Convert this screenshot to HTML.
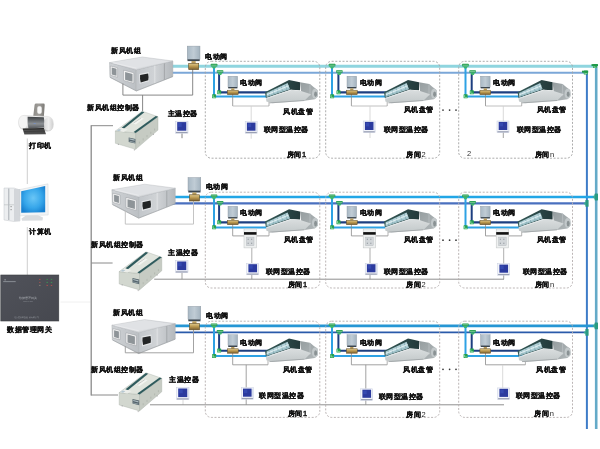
<!DOCTYPE html><html><head><meta charset="utf-8"><title>新风系统</title><style>html,body{margin:0;padding:0;background:#fff;}svg{display:block;filter:blur(0.3px)}</style></head><body>
<svg width="600" height="449" viewBox="0 0 600 449" style="font-family:'Liberation Sans',sans-serif">
<defs>
<linearGradient id="ahuTop" x1="0" y1="0" x2="1" y2="1"><stop offset="0" stop-color="#e8eaec"/><stop offset="1" stop-color="#d2d5d8"/></linearGradient>
<linearGradient id="ahuLeft" x1="0" y1="0" x2="1" y2="0"><stop offset="0" stop-color="#cfd2d5"/><stop offset="1" stop-color="#bcc0c4"/></linearGradient>
<linearGradient id="ahuRight" x1="0" y1="0" x2="1" y2="0"><stop offset="0" stop-color="#c2c6ca"/><stop offset="0.5" stop-color="#d0d3d6"/><stop offset="1" stop-color="#b4b8bc"/></linearGradient>
<linearGradient id="actG" x1="0" y1="0" x2="1" y2="0"><stop offset="0" stop-color="#a8b8c4"/><stop offset="0.5" stop-color="#c0ccd5"/><stop offset="1" stop-color="#a2b2be"/></linearGradient>
<linearGradient id="brassG" x1="0" y1="0" x2="0" y2="1"><stop offset="0" stop-color="#e0c98a"/><stop offset="0.5" stop-color="#b8964e"/><stop offset="1" stop-color="#7a6030"/></linearGradient>
<linearGradient id="fcuTop" x1="0" y1="0" x2="1" y2="0"><stop offset="0" stop-color="#355a58"/><stop offset="1" stop-color="#23393a"/></linearGradient>
<linearGradient id="fcuBot" x1="0" y1="0" x2="0" y2="1"><stop offset="0" stop-color="#dadedf"/><stop offset="1" stop-color="#c2c8c9"/></linearGradient>
<linearGradient id="fcuFan" x1="0" y1="0" x2="1" y2="1"><stop offset="0" stop-color="#959d9f"/><stop offset="1" stop-color="#b3b9bb"/></linearGradient>
<radialGradient id="scr" cx="0.5" cy="0.45" r="0.62"><stop offset="0" stop-color="#6ac6f6"/><stop offset="0.6" stop-color="#36a6ea"/><stop offset="1" stop-color="#1780d0"/></radialGradient>
<linearGradient id="gw" x1="0" y1="0" x2="1" y2="1"><stop offset="0" stop-color="#50525a"/><stop offset="1" stop-color="#46484f"/></linearGradient>
<linearGradient id="prSup" x1="0" y1="0" x2="1" y2="0"><stop offset="0" stop-color="#8d8b87"/><stop offset="0.5" stop-color="#a09e9a"/><stop offset="1" stop-color="#7c7a76"/></linearGradient>
<linearGradient id="prBody" x1="0" y1="0" x2="0" y2="1"><stop offset="0" stop-color="#f2f2f2"/><stop offset="0.6" stop-color="#e2e2e2"/><stop offset="1" stop-color="#c4c4c4"/></linearGradient>
<linearGradient id="prMid" x1="0" y1="0" x2="0" y2="1"><stop offset="0" stop-color="#3e4144"/><stop offset="0.35" stop-color="#6a6e72"/><stop offset="0.6" stop-color="#8c9094"/><stop offset="1" stop-color="#55585c"/></linearGradient>
<linearGradient id="prCap" x1="0" y1="0" x2="1" y2="0"><stop offset="0" stop-color="#d8d8d8"/><stop offset="0.5" stop-color="#eeeeee"/><stop offset="1" stop-color="#cfcfcf"/></linearGradient>
<linearGradient id="prTray" x1="0" y1="0" x2="0" y2="1"><stop offset="0" stop-color="#1e1e1e"/><stop offset="0.5" stop-color="#3a3a3a"/><stop offset="1" stop-color="#555"/></linearGradient>
</defs>
<rect width="600" height="449" fill="#fff"/>
<line x1="27.3" y1="138.5" x2="27.3" y2="184" stroke="#c8c8c8" stroke-width="0.9"/>
<line x1="27.3" y1="227" x2="27.3" y2="275" stroke="#c8c8c8" stroke-width="0.9"/>
<line x1="60.5" y1="302" x2="90.5" y2="302" stroke="#ececec" stroke-width="0.8"/>
<line x1="91.2" y1="125.2" x2="91.2" y2="395.5" stroke="#8a8a8a" stroke-width="1.3"/>
<path d="M33.2,116.8 L34.6,104.8 Q34.9,103.6 36.1,103.6 L43.5,103.6 Q44.8,103.6 44.7,104.9 L43.8,117.5 Z" fill="url(#prSup)"/>
<rect x="37.3" y="106.3" width="4.4" height="7.4" rx="1.6" fill="#f8f8f8"/>
<path d="M24,115.4 L47.5,116.4 Q53.4,117 53.4,124.2 Q53.4,131 47.5,131.2 L24,129.6 Q18.6,129.2 18.6,122.5 Q18.6,115.6 24,115.4 Z" fill="url(#prBody)" stroke="#c8c8c8" stroke-width="0.4"/>
<ellipse cx="23.2" cy="122.4" rx="4.2" ry="6.4" fill="#f4f4f4"/>
<path d="M27.6,116.8 L43.8,117.2 Q45,122 44.4,127.6 L28.4,128.4 Q27.2,122.5 27.6,116.8 Z" fill="url(#prMid)"/>
<ellipse cx="48.6" cy="124" rx="4.6" ry="6.8" fill="url(#prCap)"/>
<polygon points="22.6,128.6 43.8,128.0 46.0,134.2 24.4,134.4" fill="url(#prTray)" stroke="none" stroke-width="0.5" />
<line x1="23.4" y1="130.4" x2="44.4" y2="129.9" stroke="#777" stroke-width="0.5"/>
<line x1="24.0" y1="132.4" x2="45.2" y2="132.0" stroke="#555" stroke-width="0.5"/>
<rect x="33.6" y="123.0" width="2.2" height="0.9" fill="#7890c0" />
<text x="29.2" y="147.7" font-size="7.3" letter-spacing="0.5" font-weight="bold" fill="#111" stroke="#111" stroke-width="0.26" >打印机</text>
<polygon points="4.0,188.0 14.0,188.0 20.0,190.0 20.0,221.0 14.0,221.5 4.0,220.0" fill="#eceef0" stroke="#b8bcc0" stroke-width="0.4" />
<rect x="14.0" y="189.0" width="6.0" height="32.0" fill="#d3d6da" />
<line x1="8.8" y1="188.5" x2="8.8" y2="220" stroke="#a9adb2" stroke-width="1.0"/>
<line x1="4" y1="204.8" x2="14" y2="204.8" stroke="#b4b8bc" stroke-width="0.6"/>
<rect x="10.5" y="206.0" width="1.2" height="1.2" fill="#999" />
<rect x="10.5" y="209.0" width="1.2" height="1.2" fill="#999" />
<polygon points="20.0,189.5 48.0,183.8 48.2,215.0 20.0,215.8" fill="#f2f4f6" stroke="#c8ccd0" stroke-width="0.4" />
<polygon points="21.2,191.2 45.2,186.0 45.2,212.2 21.2,212.8" fill="url(#scr)" stroke="none" stroke-width="0.5" />
<polygon points="26.0,215.5 38.0,215.3 43.0,217.5 42.5,220.5 22.0,220.8 21.5,218.5" fill="#d9dcdf" stroke="none" stroke-width="0.5" />
<text x="29.2" y="234.1" font-size="7.3" letter-spacing="0.5" font-weight="bold" fill="#111" stroke="#111" stroke-width="0.26" >计算机</text>
<rect x="0.8" y="275" width="58" height="46" fill="url(#gw)" stroke="#3a3c40" stroke-width="0.6"/>
<rect x="4.5" y="279.2" width="1.2" height="1.2" fill="#9ea2a8" />
<rect x="3.2" y="281.2" width="12.5" height="0.9" fill="#8e939a" stroke-dasharray="1,0.4"/>
<rect x="39.1" y="278.9" width="1.4" height="1.0" fill="#b04a4a" />
<rect x="46.5" y="278.9" width="1.4" height="1.0" fill="#3a8a50" />
<rect x="50.8" y="278.9" width="1.4" height="1.0" fill="#3a8a50" />
<rect x="39.1" y="281.9" width="1.4" height="1.0" fill="#a05050" />
<rect x="46.5" y="281.9" width="1.4" height="1.0" fill="#3a9455" />
<rect x="50.8" y="281.9" width="1.4" height="1.0" fill="#3a9455" />
<rect x="39.1" y="284.9" width="1.4" height="1.0" fill="#8a8078" />
<rect x="46.5" y="284.9" width="1.4" height="1.0" fill="#b04e4e" />
<rect x="50.8" y="284.9" width="1.4" height="1.0" fill="#b04e4e" />
<text x="19" y="298.6" font-size="2.6" fill="#a4a8ae">数据管理网关</text>
<text x="23.2" y="302" font-size="2" fill="#8e9298">RTWF-200</text>
<text x="13.5" y="317.6" font-size="2.35" fill="#9ea2a8" letter-spacing="0.15">北京智慧科技股份有限公司</text>
<text x="7.0" y="331.5" font-size="7.3" letter-spacing="0.5" font-weight="bold" fill="#111" stroke="#111" stroke-width="0.26" >数据管理网关</text>
<line x1="586.9" y1="72.7" x2="586.9" y2="429" stroke="#3e7cc8" stroke-width="2"/>
<line x1="596.2" y1="66.3" x2="596.2" y2="429" stroke="#64aac8" stroke-width="2.6"/>
<text x="111.0" y="52.7" font-size="7.3" letter-spacing="0.5" font-weight="bold" fill="#111" stroke="#111" stroke-width="0.26" >新风机组</text>
<line x1="172" y1="66.3" x2="596.2" y2="66.3" stroke="#8fd5df" stroke-width="3"/>
<line x1="172" y1="72.7" x2="586.9" y2="72.7" stroke="#7ba7d8" stroke-width="2"/>
<rect x="593.1" y="64.1" width="4" height="4" rx="0.5" fill="#22a04e"/>
<path d="M594.1,64.9 L594.1,67.2 L596.6,67.2" fill="none" stroke="#bff0cf" stroke-width="0.6"/>
<rect x="583.8" y="70.5" width="4" height="4" rx="0.5" fill="#22a04e"/>
<path d="M584.8,71.3 L584.8,73.6 L587.3,73.6" fill="none" stroke="#bff0cf" stroke-width="0.6"/>
<rect x="591.5" y="64.1" width="6.5" height="2" fill="#1f9a4a"/>
<rect x="582" y="70.7" width="6.2" height="2" fill="#1f9a4a"/>
<polygon points="109.5,62.6 136.3,69.8 136.3,90.8 109.9,77.2" fill="url(#ahuLeft)" stroke="#a4a8ac" stroke-width="0.4" />
<polygon points="136.3,69.8 172.9,61.0 172.9,76.4 136.3,90.8" fill="url(#ahuRight)" stroke="#a4a8ac" stroke-width="0.4" />
<polygon points="109.5,62.6 142.2,57.0 172.9,61.0 136.3,69.8" fill="url(#ahuTop)" stroke="#b0b4b8" stroke-width="0.4" />
<polygon points="112.7,62.7 142.1,58.2 169.5,61.3 136.3,68.2" fill="#e0e2e5" stroke="none" stroke-width="0.5" />
<line x1="112.7" y1="62.7" x2="136.3" y2="68.2" stroke="#f2f3f4" stroke-width="0.5"/>
<polygon points="110.4,66.0 117.6,67.8 117.6,77.2 110.4,75.2" fill="#f6f6f6" stroke="#8a8e92" stroke-width="0.4" />
<polygon points="111.7,67.6 116.5,68.8 116.5,75.8 111.7,74.4" fill="#8e9498" stroke="none" stroke-width="0.5" />
<polygon points="123.6,70.2 133.8,72.8 133.8,83.2 123.6,80.4" fill="#f6f6f6" stroke="#8a8e92" stroke-width="0.4" />
<polygon points="125.1,72.0 132.5,73.9 132.5,81.8 125.1,79.8" fill="#8e9498" stroke="none" stroke-width="0.5" />
<polygon points="139.1,74.0 148.9,72.0 149.1,81.2 139.7,83.8" fill="#e4e6e8" stroke="none" stroke-width="0.5" />
<path d="M140.1,75.0 L148.1,73.4 Q148.9,76.6 148.3,80.2 L140.7,82.4 Q139.7,78.6 140.1,75.0 Z" fill="#232526"/>
<line x1="154.8" y1="65.6" x2="154.8" y2="83.2" stroke="#e2e4e6" stroke-width="0.9"/>
<line x1="164.4" y1="63.5" x2="164.4" y2="79.6" stroke="#8e9296" stroke-width="0.6"/>
<line x1="110.1" y1="77.4" x2="136.3" y2="91.0" stroke="#8d9195" stroke-width="0.5"/>
<line x1="136.3" y1="91.0" x2="172.9" y2="76.6" stroke="#8d9195" stroke-width="0.5"/>
<line x1="122.9" y1="83.6" x2="122.9" y2="95.1" stroke="#7a7a7a" stroke-width="0.9"/>
<line x1="122.9" y1="95.1" x2="192.7" y2="95.1" stroke="#7a7a7a" stroke-width="0.9"/>
<line x1="192.7" y1="69.1" x2="192.7" y2="95.1" stroke="#7a7a7a" stroke-width="0.9"/>
<rect x="187.2" y="46.1" width="12.8" height="13.4" fill="url(#actG)" stroke="#8a959e" stroke-width="0.4"/>
<rect x="187.5" y="59.3" width="12.2" height="1.8" fill="#3b4650" />
<rect x="191.5" y="61.1" width="4.2" height="2.3" fill="#b89a58" />
<rect x="188.7" y="63.4" width="10.0" height="6.2" fill="url(#brassG)" stroke="#5e4a22" stroke-width="0.6"/>
<text x="205.0" y="58.7" font-size="7.3" letter-spacing="0.5" font-weight="bold" fill="#111" stroke="#111" stroke-width="0.26" >电动阀</text>
<line x1="142.6" y1="95.1" x2="142.6" y2="111" stroke="#7a7a7a" stroke-width="0.9"/>
<text x="87.4" y="110.1" font-size="7.3" letter-spacing="0.5" font-weight="bold" fill="#111" stroke="#111" stroke-width="0.26" >新风机组控制器</text>
<line x1="91.2" y1="125.7" x2="113" y2="125.7" stroke="#8a8a8a" stroke-width="1.0"/>
<polygon points="115.4,131.0 135.7,132.9 135.7,149.3 115.4,143.3" fill="#d2d7cf" stroke="#aab0a8" stroke-width="0.4" />
<polygon points="135.7,132.9 158.0,116.7 158.0,130.1 135.7,149.3" fill="#c6cbc3" stroke="#aab0a8" stroke-width="0.4" />
<polygon points="115.4,131.0 142.2,111.2 158.0,116.7 135.7,132.9" fill="#e0e4dd" stroke="#aab0a8" stroke-width="0.4" />
<polygon points="121.4,128.0 142.0,111.4 144.4,112.2 123.8,128.8" fill="#2f5b5d" stroke="none" stroke-width="0.5" />
<polygon points="135.7,132.9 158.0,116.7 155.8,116.0 133.6,132.0" fill="#2f5b5d" stroke="none" stroke-width="0.5" />
<polygon points="116.2,130.6 121.0,127.6 127.8,129.4 123.6,132.0" fill="#eceeea" stroke="none" stroke-width="0.5" />
<polygon points="116.6,130.5 119.0,129.0 121.6,129.7 119.2,131.2" fill="#b6c8d2" stroke="none" stroke-width="0.5" />
<polygon points="132.0,123.2 140.0,117.4 143.8,118.6 135.8,124.4" fill="#f2f4f0" stroke="none" stroke-width="0.5" />
<line x1="133.6" y1="123.0" x2="141.0" y2="118.0" stroke="#8a8a8a" stroke-width="0.4"/>
<polygon points="128.7,137.4 135.4,139.0 135.4,143.6 128.7,142.0" fill="#55656c" stroke="none" stroke-width="0.5" />
<polygon points="129.4,138.3 134.7,139.6 134.7,140.8 129.4,139.5" fill="#b0bec4" stroke="none" stroke-width="0.5" />
<polygon points="129.4,140.8 134.7,142.1 134.7,142.9 129.4,141.6" fill="#9aa8ae" stroke="none" stroke-width="0.5" />
<line x1="139.4" y1="141.61434977578475" x2="139.4" y2="143.61434977578475" stroke="#a0a69e" stroke-width="0.5"/>
<line x1="143.20000000000002" y1="138.342600896861" x2="143.20000000000002" y2="140.342600896861" stroke="#a0a69e" stroke-width="0.5"/>
<line x1="147.0" y1="135.07085201793723" x2="147.0" y2="137.07085201793723" stroke="#a0a69e" stroke-width="0.5"/>
<line x1="150.8" y1="131.79910313901345" x2="150.8" y2="133.79910313901345" stroke="#a0a69e" stroke-width="0.5"/>
<line x1="154.60000000000002" y1="128.52735426008968" x2="154.60000000000002" y2="130.52735426008968" stroke="#a0a69e" stroke-width="0.5"/>
<line x1="118.4" y1="143.8" x2="118.4" y2="145" stroke="#888" stroke-width="0.6"/>
<line x1="134.4" y1="149.2" x2="134.4" y2="150.5" stroke="#888" stroke-width="0.6"/>
<line x1="153.4" y1="133.8" x2="153.4" y2="135" stroke="#888" stroke-width="0.6"/>
<text x="167.6" y="115.7" font-size="7.3" letter-spacing="0.5" font-weight="bold" fill="#111" stroke="#111" stroke-width="0.26" >主温控器</text>
<line x1="182.0" y1="133.2" x2="182.0" y2="138.2" stroke="#777" stroke-width="0.9"/>
<rect x="175.5" y="121.2" width="12.5" height="12.0" fill="#f2f4fa" stroke="#c8cee0" stroke-width="0.5"/>
<rect x="177.2" y="122.1" width="9.1" height="8.6" fill="#2b3a9e" />
<rect x="178.1" y="123.0" width="3.6" height="3.9" fill="#3e55c0" opacity="0.55"/>
<rect x="175.9" y="131.9" width="11.7" height="1.2" fill="#9aa0b4" />
<rect x="186.8" y="122.2" width="0.8" height="9.0" fill="#d0d8ea" />
<rect x="205.3" y="61.3" width="114.5" height="96.89999999999999" rx="6" fill="none" stroke="#a4a4a4" stroke-width="0.9" stroke-dasharray="2,1.6"/>
<line x1="214" y1="67.3" x2="214" y2="96.5" stroke="#2ea2e4" stroke-width="2"/>
<line x1="219.1" y1="73.7" x2="219.1" y2="92.4" stroke="#1d3f80" stroke-width="2"/>
<line x1="214" y1="96.5" x2="270.4" y2="96.5" stroke="#2ea2e4" stroke-width="2"/>
<line x1="219.1" y1="92.4" x2="270.4" y2="92.4" stroke="#1d3f80" stroke-width="2.1"/>
<rect x="210.8" y="63.8" width="6.5" height="2.6" rx="0.5" fill="#1f9a4a"/>
<line x1="211.2" y1="65.2" x2="216.8" y2="65.2" stroke="#c8f2d6" stroke-width="0.55"/>
<polygon points="211.8,66.4 216.2,66.4 215.1,68.5 212.9,68.5" fill="#3cb86a"/>
<rect x="216.8" y="70.2" width="6.5" height="2.6" rx="0.5" fill="#1f9a4a"/>
<line x1="217.3" y1="71.6" x2="222.8" y2="71.6" stroke="#c8f2d6" stroke-width="0.55"/>
<polygon points="217.9,72.8 222.3,72.8 221.2,74.9 219.0,74.9" fill="#3cb86a"/>
<rect x="212.1" y="94.3" width="4" height="4" rx="0.5" fill="#22a04e"/>
<path d="M213.1,95.1 L213.1,97.4 L215.6,97.4" fill="none" stroke="#bff0cf" stroke-width="0.6"/>
<rect x="217.2" y="90.2" width="4" height="4" rx="0.5" fill="#22a04e"/>
<path d="M218.2,91.0 L218.2,93.3 L220.7,93.3" fill="none" stroke="#bff0cf" stroke-width="0.6"/>
<line x1="232.7" y1="94.2" x2="232.7" y2="106" stroke="#8a8a8a" stroke-width="0.8"/>
<line x1="232.7" y1="106" x2="269" y2="106" stroke="#b0b0b0" stroke-width="0.8"/>
<line x1="251.2" y1="106" x2="251.2" y2="121.7" stroke="#cfcfcf" stroke-width="0.8"/>
<line x1="269" y1="100.7" x2="269" y2="106" stroke="#a0a0a0" stroke-width="0.8"/>
<line x1="251.2" y1="132.7" x2="251.2" y2="138.7" stroke="#cfcfcf" stroke-width="0.8"/>
<rect x="228.0" y="76.2" width="9.6" height="11.0" fill="url(#actG)" stroke="#8a959e" stroke-width="0.4"/>
<rect x="228.2" y="87.0" width="9.2" height="1.4" fill="#3b4650" />
<rect x="231.2" y="88.4" width="3.2" height="1.8" fill="#b89a58" />
<rect x="227.4" y="90.2" width="10.8" height="4.4" fill="url(#brassG)" stroke="#5e4a22" stroke-width="0.5"/>
<text x="240.4" y="85.3" font-size="7.3" letter-spacing="0.5" font-weight="bold" fill="#111" stroke="#111" stroke-width="0.26" >电动阀</text>
<polygon points="300.0,82.3 310.0,84.1 313.9,87.2 317.6,89.9 318.0,96.3 314.9,99.3 304.4,100.7 301.0,90.9" fill="url(#fcuFan)" stroke="none" stroke-width="0.5" />
<ellipse cx="315.0" cy="93.7" rx="3.0" ry="5.0" fill="#c2c8ca"/>
<ellipse cx="315.6" cy="94.3" rx="1.5" ry="2.8" fill="#8a9294"/>
<line x1="310.0" y1="84.3" x2="310.0" y2="96.2" stroke="#b9bfc1" stroke-width="0.8"/>
<polygon points="265.0,92.2 289.0,79.9 300.0,82.3 300.0,90.3 291.0,89.7 265.9,97.9" fill="url(#fcuTop)" stroke="none" stroke-width="0.5" />
<polygon points="266.6,92.9 287.6,83.1 290.0,89.3 266.6,97.1" fill="#b4d2d9" stroke="none" stroke-width="0.5" />
<line x1="269.12" y1="91.724" x2="269.40799999999996" y2="96.164" stroke="#5f8c94" stroke-width="0.45"/>
<line x1="273.10999999999996" y1="89.862" x2="273.854" y2="94.682" stroke="#5f8c94" stroke-width="0.45"/>
<line x1="277.09999999999997" y1="88.0" x2="278.29999999999995" y2="93.2" stroke="#5f8c94" stroke-width="0.45"/>
<line x1="281.09" y1="86.138" x2="282.746" y2="91.718" stroke="#5f8c94" stroke-width="0.45"/>
<line x1="285.08" y1="84.27600000000001" x2="287.192" y2="90.236" stroke="#5f8c94" stroke-width="0.45"/>
<line x1="266.79999999999995" y1="94.7" x2="288.59999999999997" y2="85.8" stroke="#eef6f8" stroke-width="0.8"/>
<line x1="266.79999999999995" y1="96.30000000000001" x2="289.4" y2="88.3" stroke="#7fa6ae" stroke-width="0.5"/>
<polygon points="265.9,98.1 291.0,89.7 301.0,90.9 311.0,94.3 304.4,100.7 272.4,103.3 266.4,101.5" fill="url(#fcuBot)" stroke="none" stroke-width="0.5" />
<line x1="269.4" y1="102.9" x2="304.4" y2="100.5" stroke="#9aa0a2" stroke-width="0.8"/>
<line x1="266.4" y1="98.5" x2="291.0" y2="90.10000000000001" stroke="#f4f7f8" stroke-width="0.5"/>
<text x="283.0" y="113.9" font-size="7.3" letter-spacing="0.5" font-weight="bold" fill="#111" stroke="#111" stroke-width="0.26" >风机盘管</text>
<rect x="245.2" y="121.7" width="12.0" height="11.5" fill="#f2f4fa" stroke="#c8cee0" stroke-width="0.5"/>
<rect x="246.9" y="122.6" width="8.6" height="8.1" fill="#2b3a9e" />
<rect x="247.8" y="123.5" width="3.4" height="3.6" fill="#3e55c0" opacity="0.55"/>
<rect x="245.6" y="131.9" width="11.2" height="1.2" fill="#9aa0b4" />
<rect x="256.0" y="122.7" width="0.8" height="8.5" fill="#d0d8ea" />
<text x="263.5" y="131.9" font-size="7.3" letter-spacing="0.5" font-weight="bold" fill="#111" stroke="#111" stroke-width="0.26" >联网型温控器</text>
<text x="286.7" y="156.7" font-size="7.3" letter-spacing="0.5" font-weight="bold" fill="#111" stroke="#111" stroke-width="0.26" >房间</text>
<text x="302.1" y="156.7" font-size="7.3" letter-spacing="0.5" font-weight="bold" fill="#111" stroke="#111" stroke-width="0.26" >1</text>
<rect x="325.7" y="61.3" width="114.0" height="96.89999999999999" rx="6" fill="none" stroke="#a4a4a4" stroke-width="0.9" stroke-dasharray="2,1.6"/>
<line x1="332" y1="67.3" x2="332" y2="96.5" stroke="#2ea2e4" stroke-width="2"/>
<line x1="338.4" y1="73.7" x2="338.4" y2="92.4" stroke="#1d3f80" stroke-width="2"/>
<line x1="332" y1="96.5" x2="389.4" y2="96.5" stroke="#2ea2e4" stroke-width="2"/>
<line x1="338.4" y1="92.4" x2="389.4" y2="92.4" stroke="#1d3f80" stroke-width="2.1"/>
<rect x="328.8" y="63.8" width="6.5" height="2.6" rx="0.5" fill="#1f9a4a"/>
<line x1="329.2" y1="65.2" x2="334.8" y2="65.2" stroke="#c8f2d6" stroke-width="0.55"/>
<polygon points="329.8,66.4 334.2,66.4 333.1,68.5 330.9,68.5" fill="#3cb86a"/>
<rect x="336.1" y="70.2" width="6.5" height="2.6" rx="0.5" fill="#1f9a4a"/>
<line x1="336.6" y1="71.6" x2="342.1" y2="71.6" stroke="#c8f2d6" stroke-width="0.55"/>
<polygon points="337.2,72.8 341.6,72.8 340.5,74.9 338.3,74.9" fill="#3cb86a"/>
<rect x="330.1" y="94.3" width="4" height="4" rx="0.5" fill="#22a04e"/>
<path d="M331.1,95.1 L331.1,97.4 L333.6,97.4" fill="none" stroke="#bff0cf" stroke-width="0.6"/>
<rect x="336.5" y="90.2" width="4" height="4" rx="0.5" fill="#22a04e"/>
<path d="M337.5,91.0 L337.5,93.3 L340.0,93.3" fill="none" stroke="#bff0cf" stroke-width="0.6"/>
<line x1="351.4" y1="94.2" x2="351.4" y2="106" stroke="#8a8a8a" stroke-width="0.8"/>
<line x1="351.4" y1="106" x2="387.2" y2="106" stroke="#b0b0b0" stroke-width="0.8"/>
<line x1="370" y1="106" x2="370" y2="121" stroke="#cfcfcf" stroke-width="0.8"/>
<line x1="387.2" y1="100.7" x2="387.2" y2="106" stroke="#a0a0a0" stroke-width="0.8"/>
<line x1="370" y1="132" x2="370" y2="138" stroke="#cfcfcf" stroke-width="0.8"/>
<rect x="347.0" y="76.2" width="9.6" height="11.0" fill="url(#actG)" stroke="#8a959e" stroke-width="0.4"/>
<rect x="347.2" y="87.0" width="9.2" height="1.4" fill="#3b4650" />
<rect x="350.2" y="88.4" width="3.2" height="1.8" fill="#b89a58" />
<rect x="346.4" y="90.2" width="10.8" height="4.4" fill="url(#brassG)" stroke="#5e4a22" stroke-width="0.5"/>
<text x="359.6" y="85.3" font-size="7.3" letter-spacing="0.5" font-weight="bold" fill="#111" stroke="#111" stroke-width="0.26" >电动阀</text>
<polygon points="419.0,82.3 429.0,84.1 432.9,87.2 436.6,89.9 437.0,96.3 433.9,99.3 423.4,100.7 420.0,90.9" fill="url(#fcuFan)" stroke="none" stroke-width="0.5" />
<ellipse cx="434.0" cy="93.7" rx="3.0" ry="5.0" fill="#c2c8ca"/>
<ellipse cx="434.6" cy="94.3" rx="1.5" ry="2.8" fill="#8a9294"/>
<line x1="429.0" y1="84.3" x2="429.0" y2="96.2" stroke="#b9bfc1" stroke-width="0.8"/>
<polygon points="384.0,92.2 408.0,79.9 419.0,82.3 419.0,90.3 410.0,89.7 384.9,97.9" fill="url(#fcuTop)" stroke="none" stroke-width="0.5" />
<polygon points="385.6,92.9 406.6,83.1 409.0,89.3 385.6,97.1" fill="#b4d2d9" stroke="none" stroke-width="0.5" />
<line x1="388.12" y1="91.724" x2="388.40799999999996" y2="96.164" stroke="#5f8c94" stroke-width="0.45"/>
<line x1="392.10999999999996" y1="89.862" x2="392.854" y2="94.682" stroke="#5f8c94" stroke-width="0.45"/>
<line x1="396.09999999999997" y1="88.0" x2="397.29999999999995" y2="93.2" stroke="#5f8c94" stroke-width="0.45"/>
<line x1="400.09" y1="86.138" x2="401.746" y2="91.718" stroke="#5f8c94" stroke-width="0.45"/>
<line x1="404.08" y1="84.27600000000001" x2="406.192" y2="90.236" stroke="#5f8c94" stroke-width="0.45"/>
<line x1="385.79999999999995" y1="94.7" x2="407.59999999999997" y2="85.8" stroke="#eef6f8" stroke-width="0.8"/>
<line x1="385.79999999999995" y1="96.30000000000001" x2="408.4" y2="88.3" stroke="#7fa6ae" stroke-width="0.5"/>
<polygon points="384.9,98.1 410.0,89.7 420.0,90.9 430.0,94.3 423.4,100.7 391.4,103.3 385.4,101.5" fill="url(#fcuBot)" stroke="none" stroke-width="0.5" />
<line x1="388.4" y1="102.9" x2="423.4" y2="100.5" stroke="#9aa0a2" stroke-width="0.8"/>
<line x1="385.4" y1="98.5" x2="410.0" y2="90.10000000000001" stroke="#f4f7f8" stroke-width="0.5"/>
<text x="403.7" y="111.7" font-size="7.3" letter-spacing="0.5" font-weight="bold" fill="#111" stroke="#111" stroke-width="0.26" >风机盘管</text>
<rect x="363.2" y="121.0" width="12.0" height="11.5" fill="#f2f4fa" stroke="#c8cee0" stroke-width="0.5"/>
<rect x="364.9" y="121.9" width="8.6" height="8.1" fill="#2b3a9e" />
<rect x="365.8" y="122.8" width="3.4" height="3.6" fill="#3e55c0" opacity="0.55"/>
<rect x="363.6" y="131.2" width="11.2" height="1.2" fill="#9aa0b4" />
<rect x="374.0" y="122.0" width="0.8" height="8.5" fill="#d0d8ea" />
<text x="383.8" y="132.4" font-size="7.3" letter-spacing="0.5" font-weight="bold" fill="#111" stroke="#111" stroke-width="0.26" >联网型温控器</text>
<text x="406.0" y="156.7" font-size="7.3" letter-spacing="0.5" font-weight="bold" fill="#111" stroke="#111" stroke-width="0.26" >房间</text>
<text x="421.4" y="156.8" font-size="7.5" letter-spacing="0.5" font-weight="normal" fill="#222" >2</text>
<rect x="458.7" y="61.3" width="113.80000000000001" height="96.89999999999999" rx="6" fill="none" stroke="#a4a4a4" stroke-width="0.9" stroke-dasharray="2,1.6"/>
<line x1="465.5" y1="67.3" x2="465.5" y2="96.5" stroke="#2ea2e4" stroke-width="2"/>
<line x1="471.7" y1="73.7" x2="471.7" y2="92.4" stroke="#1d3f80" stroke-width="2"/>
<line x1="465.5" y1="96.5" x2="523" y2="96.5" stroke="#2ea2e4" stroke-width="2"/>
<line x1="471.7" y1="92.4" x2="523" y2="92.4" stroke="#1d3f80" stroke-width="2.1"/>
<rect x="462.2" y="63.8" width="6.5" height="2.6" rx="0.5" fill="#1f9a4a"/>
<line x1="462.8" y1="65.2" x2="468.2" y2="65.2" stroke="#c8f2d6" stroke-width="0.55"/>
<polygon points="463.3,66.4 467.7,66.4 466.6,68.5 464.4,68.5" fill="#3cb86a"/>
<rect x="469.4" y="70.2" width="6.5" height="2.6" rx="0.5" fill="#1f9a4a"/>
<line x1="469.9" y1="71.6" x2="475.4" y2="71.6" stroke="#c8f2d6" stroke-width="0.55"/>
<polygon points="470.5,72.8 474.9,72.8 473.8,74.9 471.6,74.9" fill="#3cb86a"/>
<rect x="463.6" y="94.3" width="4" height="4" rx="0.5" fill="#22a04e"/>
<path d="M464.6,95.1 L464.6,97.4 L467.1,97.4" fill="none" stroke="#bff0cf" stroke-width="0.6"/>
<rect x="469.8" y="90.2" width="4" height="4" rx="0.5" fill="#22a04e"/>
<path d="M470.8,91.0 L470.8,93.3 L473.3,93.3" fill="none" stroke="#bff0cf" stroke-width="0.6"/>
<line x1="485.5" y1="94.2" x2="485.5" y2="106" stroke="#8a8a8a" stroke-width="0.8"/>
<line x1="485.5" y1="106" x2="521.7" y2="106" stroke="#b0b0b0" stroke-width="0.8"/>
<line x1="503.3" y1="106" x2="503.3" y2="121" stroke="#cfcfcf" stroke-width="0.8"/>
<line x1="521.7" y1="100.7" x2="521.7" y2="106" stroke="#a0a0a0" stroke-width="0.8"/>
<line x1="503.3" y1="132" x2="503.3" y2="138" stroke="#8a8a8a" stroke-width="0.8"/>
<rect x="480.5" y="76.2" width="9.6" height="11.0" fill="url(#actG)" stroke="#8a959e" stroke-width="0.4"/>
<rect x="480.7" y="87.0" width="9.2" height="1.4" fill="#3b4650" />
<rect x="483.7" y="88.4" width="3.2" height="1.8" fill="#b89a58" />
<rect x="479.9" y="90.2" width="10.8" height="4.4" fill="url(#brassG)" stroke="#5e4a22" stroke-width="0.5"/>
<text x="493.0" y="85.3" font-size="7.3" letter-spacing="0.5" font-weight="bold" fill="#111" stroke="#111" stroke-width="0.26" >电动阀</text>
<polygon points="552.6,82.3 562.6,84.1 566.5,87.2 570.2,89.9 570.6,96.3 567.5,99.3 557.0,100.7 553.6,90.9" fill="url(#fcuFan)" stroke="none" stroke-width="0.5" />
<ellipse cx="567.6" cy="93.7" rx="3.0" ry="5.0" fill="#c2c8ca"/>
<ellipse cx="568.2" cy="94.3" rx="1.5" ry="2.8" fill="#8a9294"/>
<line x1="562.6" y1="84.3" x2="562.6" y2="96.2" stroke="#b9bfc1" stroke-width="0.8"/>
<polygon points="517.6,92.2 541.6,79.9 552.6,82.3 552.6,90.3 543.6,89.7 518.5,97.9" fill="url(#fcuTop)" stroke="none" stroke-width="0.5" />
<polygon points="519.2,92.9 540.2,83.1 542.6,89.3 519.2,97.1" fill="#b4d2d9" stroke="none" stroke-width="0.5" />
<line x1="521.72" y1="91.724" x2="522.008" y2="96.164" stroke="#5f8c94" stroke-width="0.45"/>
<line x1="525.71" y1="89.862" x2="526.454" y2="94.682" stroke="#5f8c94" stroke-width="0.45"/>
<line x1="529.7" y1="88.0" x2="530.9" y2="93.2" stroke="#5f8c94" stroke-width="0.45"/>
<line x1="533.69" y1="86.138" x2="535.346" y2="91.718" stroke="#5f8c94" stroke-width="0.45"/>
<line x1="537.68" y1="84.27600000000001" x2="539.792" y2="90.236" stroke="#5f8c94" stroke-width="0.45"/>
<line x1="519.4" y1="94.7" x2="541.2" y2="85.8" stroke="#eef6f8" stroke-width="0.8"/>
<line x1="519.4" y1="96.30000000000001" x2="542" y2="88.3" stroke="#7fa6ae" stroke-width="0.5"/>
<polygon points="518.5,98.1 543.6,89.7 553.6,90.9 563.6,94.3 557.0,100.7 525.0,103.3 519.0,101.5" fill="url(#fcuBot)" stroke="none" stroke-width="0.5" />
<line x1="522" y1="102.9" x2="557" y2="100.5" stroke="#9aa0a2" stroke-width="0.8"/>
<line x1="519" y1="98.5" x2="543.6" y2="90.10000000000001" stroke="#f4f7f8" stroke-width="0.5"/>
<text x="536.7" y="111.7" font-size="7.3" letter-spacing="0.5" font-weight="bold" fill="#111" stroke="#111" stroke-width="0.26" >风机盘管</text>
<rect x="497.0" y="121.0" width="12.0" height="11.5" fill="#f2f4fa" stroke="#c8cee0" stroke-width="0.5"/>
<rect x="498.7" y="121.9" width="8.6" height="8.1" fill="#2b3a9e" />
<rect x="499.6" y="122.8" width="3.4" height="3.6" fill="#3e55c0" opacity="0.55"/>
<rect x="497.4" y="131.2" width="11.2" height="1.2" fill="#9aa0b4" />
<rect x="507.8" y="122.0" width="0.8" height="8.5" fill="#d0d8ea" />
<text x="516.5" y="132.4" font-size="7.3" letter-spacing="0.5" font-weight="bold" fill="#111" stroke="#111" stroke-width="0.26" >联网型温控器</text>
<text x="534.5" y="156.7" font-size="7.3" letter-spacing="0.5" font-weight="bold" fill="#111" stroke="#111" stroke-width="0.26" >房间</text>
<text x="549.9" y="156.8" font-size="7.5" letter-spacing="0.5" font-weight="normal" fill="#222" >n</text>
<circle cx="443" cy="110.1" r="0.85" fill="#333"/>
<circle cx="449.6" cy="110.1" r="0.85" fill="#333"/>
<circle cx="456" cy="110.1" r="0.85" fill="#333"/>
<text x="113.2" y="180.1" font-size="7.3" letter-spacing="0.5" font-weight="bold" fill="#111" stroke="#111" stroke-width="0.26" >新风机组</text>
<line x1="172" y1="197.0" x2="596.2" y2="197.0" stroke="#22a6e6" stroke-width="2.4"/>
<line x1="172" y1="203.4" x2="586.9" y2="203.4" stroke="#4a70bf" stroke-width="2.3"/>
<rect x="594.6" y="193.6" width="3.4" height="6.8" rx="0.6" fill="#2a9a82"/>
<polygon points="592.6,197.0 594.8,194.8 594.8,199.2" fill="#3aae90"/>
<rect x="585.4" y="200.0" width="3.2" height="6.8" rx="0.6" fill="#2a9a82"/>
<polygon points="583.6,203.4 585.6,201.4 585.6,205.4" fill="#3aae90"/>
<polygon points="111.9,189.8 138.7,197.0 138.7,218.0 112.3,204.4" fill="url(#ahuLeft)" stroke="#a4a8ac" stroke-width="0.4" />
<polygon points="138.7,197.0 175.3,188.2 175.3,203.6 138.7,218.0" fill="url(#ahuRight)" stroke="#a4a8ac" stroke-width="0.4" />
<polygon points="111.9,189.8 144.6,184.2 175.3,188.2 138.7,197.0" fill="url(#ahuTop)" stroke="#b0b4b8" stroke-width="0.4" />
<polygon points="115.1,189.9 144.5,185.4 171.9,188.5 138.7,195.4" fill="#e0e2e5" stroke="none" stroke-width="0.5" />
<line x1="115.10000000000001" y1="189.9" x2="138.70000000000002" y2="195.4" stroke="#f2f3f4" stroke-width="0.5"/>
<polygon points="112.8,193.2 120.0,195.0 120.0,204.4 112.8,202.4" fill="#f6f6f6" stroke="#8a8e92" stroke-width="0.4" />
<polygon points="114.1,194.8 118.9,196.0 118.9,203.0 114.1,201.6" fill="#8e9498" stroke="none" stroke-width="0.5" />
<polygon points="126.0,197.4 136.2,200.0 136.2,210.4 126.0,207.6" fill="#f6f6f6" stroke="#8a8e92" stroke-width="0.4" />
<polygon points="127.5,199.2 134.9,201.1 134.9,209.0 127.5,207.0" fill="#8e9498" stroke="none" stroke-width="0.5" />
<polygon points="141.5,201.2 151.3,199.2 151.5,208.4 142.1,211.0" fill="#e4e6e8" stroke="none" stroke-width="0.5" />
<path d="M142.5,202.2 L150.5,200.6 Q151.3,203.8 150.7,207.4 L143.1,209.6 Q142.1,205.8 142.5,202.2 Z" fill="#232526"/>
<line x1="157.2" y1="192.8" x2="157.2" y2="210.4" stroke="#e2e4e6" stroke-width="0.9"/>
<line x1="166.8" y1="190.70000000000002" x2="166.8" y2="206.8" stroke="#8e9296" stroke-width="0.6"/>
<line x1="112.5" y1="204.60000000000002" x2="138.70000000000002" y2="218.20000000000002" stroke="#8d9195" stroke-width="0.5"/>
<line x1="138.70000000000002" y1="218.20000000000002" x2="175.3" y2="203.8" stroke="#8d9195" stroke-width="0.5"/>
<line x1="125.30000000000001" y1="210.8" x2="125.30000000000001" y2="224.1" stroke="#bdbdbd" stroke-width="0.9"/>
<line x1="125.30000000000001" y1="224.1" x2="193.5" y2="224.1" stroke="#bdbdbd" stroke-width="0.9"/>
<line x1="193.5" y1="200.5" x2="193.5" y2="224.1" stroke="#bdbdbd" stroke-width="0.9"/>
<rect x="188.0" y="177.5" width="12.8" height="13.4" fill="url(#actG)" stroke="#8a959e" stroke-width="0.4"/>
<rect x="188.3" y="190.7" width="12.2" height="1.8" fill="#3b4650" />
<rect x="192.3" y="192.5" width="4.2" height="2.3" fill="#b89a58" />
<rect x="189.5" y="194.8" width="10.0" height="6.2" fill="url(#brassG)" stroke="#5e4a22" stroke-width="0.6"/>
<text x="205.5" y="188.7" font-size="7.3" letter-spacing="0.5" font-weight="bold" fill="#111" stroke="#111" stroke-width="0.26" >电动阀</text>
<text x="91.0" y="246.7" font-size="7.3" letter-spacing="0.5" font-weight="bold" fill="#111" stroke="#111" stroke-width="0.26" >新风机组控制器</text>
<line x1="91.2" y1="263" x2="112.6" y2="263" stroke="#8a8a8a" stroke-width="1.0"/>
<polygon points="119.2,271.6 139.5,273.5 139.5,289.9 119.2,283.9" fill="#d2d7cf" stroke="#aab0a8" stroke-width="0.4" />
<polygon points="139.5,273.5 161.8,257.3 161.8,270.7 139.5,289.9" fill="#c6cbc3" stroke="#aab0a8" stroke-width="0.4" />
<polygon points="119.2,271.6 146.0,251.8 161.8,257.3 139.5,273.5" fill="#e0e4dd" stroke="#aab0a8" stroke-width="0.4" />
<polygon points="125.2,268.6 145.8,252.0 148.2,252.8 127.6,269.4" fill="#2f5b5d" stroke="none" stroke-width="0.5" />
<polygon points="139.5,273.5 161.8,257.3 159.6,256.6 137.4,272.6" fill="#2f5b5d" stroke="none" stroke-width="0.5" />
<polygon points="120.0,271.2 124.8,268.2 131.6,270.0 127.4,272.6" fill="#eceeea" stroke="none" stroke-width="0.5" />
<polygon points="120.4,271.1 122.8,269.6 125.4,270.3 123.0,271.8" fill="#b6c8d2" stroke="none" stroke-width="0.5" />
<polygon points="135.8,263.8 143.8,258.0 147.6,259.2 139.6,265.0" fill="#f2f4f0" stroke="none" stroke-width="0.5" />
<line x1="137.4" y1="263.6" x2="144.8" y2="258.6" stroke="#8a8a8a" stroke-width="0.4"/>
<polygon points="132.5,278.0 139.2,279.6 139.2,284.2 132.5,282.6" fill="#55656c" stroke="none" stroke-width="0.5" />
<polygon points="133.2,278.9 138.5,280.2 138.5,281.4 133.2,280.1" fill="#b0bec4" stroke="none" stroke-width="0.5" />
<polygon points="133.2,281.4 138.5,282.7 138.5,283.5 133.2,282.2" fill="#9aa8ae" stroke="none" stroke-width="0.5" />
<line x1="143.2" y1="282.2143497757848" x2="143.2" y2="284.2143497757848" stroke="#a0a69e" stroke-width="0.5"/>
<line x1="147.0" y1="278.942600896861" x2="147.0" y2="280.942600896861" stroke="#a0a69e" stroke-width="0.5"/>
<line x1="150.8" y1="275.67085201793725" x2="150.8" y2="277.67085201793725" stroke="#a0a69e" stroke-width="0.5"/>
<line x1="154.6" y1="272.3991031390135" x2="154.6" y2="274.3991031390135" stroke="#a0a69e" stroke-width="0.5"/>
<line x1="158.4" y1="269.1273542600897" x2="158.4" y2="271.1273542600897" stroke="#a0a69e" stroke-width="0.5"/>
<line x1="122.2" y1="284.40000000000003" x2="122.2" y2="285.6" stroke="#888" stroke-width="0.6"/>
<line x1="138.2" y1="289.8" x2="138.2" y2="291.1" stroke="#888" stroke-width="0.6"/>
<line x1="157.2" y1="274.40000000000003" x2="157.2" y2="275.6" stroke="#888" stroke-width="0.6"/>
<text x="168.0" y="255.3" font-size="7.3" letter-spacing="0.5" font-weight="bold" fill="#111" stroke="#111" stroke-width="0.26" >主温控器</text>
<line x1="182.0" y1="272.6" x2="182.0" y2="279.2" stroke="#999" stroke-width="0.9"/>
<line x1="154.2" y1="279.2" x2="504" y2="279.2" stroke="#8f8f8f" stroke-width="1.0"/>
<rect x="175.5" y="260.6" width="12.5" height="12.0" fill="#f2f4fa" stroke="#c8cee0" stroke-width="0.5"/>
<rect x="177.2" y="261.5" width="9.1" height="8.6" fill="#2b3a9e" />
<rect x="178.1" y="262.4" width="3.6" height="3.9" fill="#3e55c0" opacity="0.55"/>
<rect x="175.9" y="271.3" width="11.7" height="1.2" fill="#9aa0b4" />
<rect x="186.8" y="261.6" width="0.8" height="9.0" fill="#d0d8ea" />
<rect x="205.3" y="192.2" width="114.5" height="95.80000000000001" rx="6" fill="none" stroke="#b4aeae" stroke-width="0.9" stroke-dasharray="2,1.6"/>
<line x1="214" y1="198.0" x2="214" y2="227.5" stroke="#2ea2e4" stroke-width="2"/>
<line x1="219.1" y1="204.4" x2="219.1" y2="222.4" stroke="#1d3f80" stroke-width="2"/>
<line x1="214" y1="227.5" x2="270.4" y2="227.5" stroke="#2ea2e4" stroke-width="2"/>
<line x1="219.1" y1="222.4" x2="270.4" y2="222.4" stroke="#1d3f80" stroke-width="2.1"/>
<rect x="210.8" y="194.5" width="6.5" height="2.6" rx="0.5" fill="#1f9a4a"/>
<line x1="211.2" y1="195.9" x2="216.8" y2="195.9" stroke="#c8f2d6" stroke-width="0.55"/>
<polygon points="211.8,197.1 216.2,197.1 215.1,199.2 212.9,199.2" fill="#3cb86a"/>
<rect x="216.8" y="200.9" width="6.5" height="2.6" rx="0.5" fill="#1f9a4a"/>
<line x1="217.3" y1="202.3" x2="222.8" y2="202.3" stroke="#c8f2d6" stroke-width="0.55"/>
<polygon points="217.9,203.5 222.3,203.5 221.2,205.6 219.0,205.6" fill="#3cb86a"/>
<rect x="212.1" y="225.3" width="4" height="4" rx="0.5" fill="#22a04e"/>
<path d="M213.1,226.1 L213.1,228.4 L215.6,228.4" fill="none" stroke="#bff0cf" stroke-width="0.6"/>
<rect x="217.2" y="220.2" width="4" height="4" rx="0.5" fill="#22a04e"/>
<path d="M218.2,221.0 L218.2,223.3 L220.7,223.3" fill="none" stroke="#bff0cf" stroke-width="0.6"/>
<line x1="232.7" y1="224.3" x2="232.7" y2="235.9" stroke="#8a8a8a" stroke-width="0.8"/>
<line x1="232.7" y1="235.9" x2="244" y2="235.9" stroke="#8a8a8a" stroke-width="0.8"/>
<line x1="256.5" y1="235.9" x2="269" y2="235.9" stroke="#8a8a8a" stroke-width="0.8"/>
<line x1="251.8" y1="247.9" x2="251.8" y2="263.3" stroke="#9a9a9a" stroke-width="0.8"/>
<line x1="269" y1="230" x2="269" y2="235.9" stroke="#a0a0a0" stroke-width="0.8"/>
<line x1="251.8" y1="274.3" x2="251.8" y2="279.2" stroke="#8a8a8a" stroke-width="0.8"/>
<rect x="228.0" y="206.3" width="9.6" height="11.0" fill="url(#actG)" stroke="#8a959e" stroke-width="0.4"/>
<rect x="228.2" y="217.1" width="9.2" height="1.4" fill="#3b4650" />
<rect x="231.2" y="218.5" width="3.2" height="1.8" fill="#b89a58" />
<rect x="227.4" y="220.3" width="10.8" height="4.4" fill="url(#brassG)" stroke="#5e4a22" stroke-width="0.5"/>
<text x="240.4" y="215.4" font-size="7.3" letter-spacing="0.5" font-weight="bold" fill="#111" stroke="#111" stroke-width="0.26" >电动阀</text>
<polygon points="300.0,211.6 310.0,213.4 313.9,216.5 317.6,219.2 318.0,225.6 314.9,228.6 304.4,230.0 301.0,220.2" fill="url(#fcuFan)" stroke="none" stroke-width="0.5" />
<ellipse cx="315.0" cy="223.0" rx="3.0" ry="5.0" fill="#c2c8ca"/>
<ellipse cx="315.6" cy="223.6" rx="1.5" ry="2.8" fill="#8a9294"/>
<line x1="310.0" y1="213.6" x2="310.0" y2="225.5" stroke="#b9bfc1" stroke-width="0.8"/>
<polygon points="265.0,221.5 289.0,209.2 300.0,211.6 300.0,219.6 291.0,219.0 265.9,227.2" fill="url(#fcuTop)" stroke="none" stroke-width="0.5" />
<polygon points="266.6,222.2 287.6,212.4 290.0,218.6 266.6,226.4" fill="#b4d2d9" stroke="none" stroke-width="0.5" />
<line x1="269.12" y1="221.024" x2="269.40799999999996" y2="225.464" stroke="#5f8c94" stroke-width="0.45"/>
<line x1="273.10999999999996" y1="219.162" x2="273.854" y2="223.982" stroke="#5f8c94" stroke-width="0.45"/>
<line x1="277.09999999999997" y1="217.3" x2="278.29999999999995" y2="222.5" stroke="#5f8c94" stroke-width="0.45"/>
<line x1="281.09" y1="215.438" x2="282.746" y2="221.018" stroke="#5f8c94" stroke-width="0.45"/>
<line x1="285.08" y1="213.576" x2="287.192" y2="219.536" stroke="#5f8c94" stroke-width="0.45"/>
<line x1="266.79999999999995" y1="224.0" x2="288.59999999999997" y2="215.1" stroke="#eef6f8" stroke-width="0.8"/>
<line x1="266.79999999999995" y1="225.6" x2="289.4" y2="217.6" stroke="#7fa6ae" stroke-width="0.5"/>
<polygon points="265.9,227.4 291.0,219.0 301.0,220.2 311.0,223.6 304.4,230.0 272.4,232.6 266.4,230.8" fill="url(#fcuBot)" stroke="none" stroke-width="0.5" />
<line x1="269.4" y1="232.2" x2="304.4" y2="229.8" stroke="#9aa0a2" stroke-width="0.8"/>
<line x1="266.4" y1="227.8" x2="291.0" y2="219.4" stroke="#f4f7f8" stroke-width="0.5"/>
<text x="283.7" y="242.4" font-size="7.3" letter-spacing="0.5" font-weight="bold" fill="#111" stroke="#111" stroke-width="0.26" >风机盘管</text>
<rect x="244.0" y="228.9" width="12.5" height="19.0" fill="#eef0f0" stroke="#c0c4c4" stroke-width="0.5"/>
<rect x="244.0" y="232.1" width="12.5" height="2.6" fill="#111" />
<rect x="246.4" y="237.1" width="7.6" height="8.6" fill="#d2d6d9" stroke="#b0b4b8" stroke-width="0.4"/>
<rect x="247.6" y="238.7" width="1.2" height="1.2" fill="#9aa0a6" />
<rect x="251.0" y="238.7" width="1.2" height="1.2" fill="#9aa0a6" />
<rect x="247.6" y="242.7" width="1.2" height="1.2" fill="#9aa0a6" />
<rect x="251.0" y="242.7" width="1.2" height="1.2" fill="#9aa0a6" />
<rect x="246.7" y="263.3" width="12.0" height="11.5" fill="#f2f4fa" stroke="#c8cee0" stroke-width="0.5"/>
<rect x="248.4" y="264.2" width="8.6" height="8.1" fill="#2b3a9e" />
<rect x="249.3" y="265.1" width="3.4" height="3.6" fill="#3e55c0" opacity="0.55"/>
<rect x="247.1" y="273.5" width="11.2" height="1.2" fill="#9aa0b4" />
<rect x="257.5" y="264.3" width="0.8" height="8.5" fill="#d0d8ea" />
<text x="265.7" y="273.9" font-size="7.3" letter-spacing="0.5" font-weight="bold" fill="#111" stroke="#111" stroke-width="0.26" >联网型温控器</text>
<text x="287.5" y="286.7" font-size="7.3" letter-spacing="0.5" font-weight="bold" fill="#111" stroke="#111" stroke-width="0.26" >房间</text>
<text x="302.9" y="286.7" font-size="7.3" letter-spacing="0.5" font-weight="bold" fill="#111" stroke="#111" stroke-width="0.26" >1</text>
<rect x="325.7" y="192.2" width="114.0" height="95.80000000000001" rx="6" fill="none" stroke="#b4aeae" stroke-width="0.9" stroke-dasharray="2,1.6"/>
<line x1="332" y1="198.0" x2="332" y2="227.5" stroke="#2ea2e4" stroke-width="2"/>
<line x1="338.4" y1="204.4" x2="338.4" y2="222.4" stroke="#1d3f80" stroke-width="2"/>
<line x1="332" y1="227.5" x2="389.4" y2="227.5" stroke="#2ea2e4" stroke-width="2"/>
<line x1="338.4" y1="222.4" x2="389.4" y2="222.4" stroke="#1d3f80" stroke-width="2.1"/>
<rect x="328.8" y="194.5" width="6.5" height="2.6" rx="0.5" fill="#1f9a4a"/>
<line x1="329.2" y1="195.9" x2="334.8" y2="195.9" stroke="#c8f2d6" stroke-width="0.55"/>
<polygon points="329.8,197.1 334.2,197.1 333.1,199.2 330.9,199.2" fill="#3cb86a"/>
<rect x="336.1" y="200.9" width="6.5" height="2.6" rx="0.5" fill="#1f9a4a"/>
<line x1="336.6" y1="202.3" x2="342.1" y2="202.3" stroke="#c8f2d6" stroke-width="0.55"/>
<polygon points="337.2,203.5 341.6,203.5 340.5,205.6 338.3,205.6" fill="#3cb86a"/>
<rect x="330.1" y="225.3" width="4" height="4" rx="0.5" fill="#22a04e"/>
<path d="M331.1,226.1 L331.1,228.4 L333.6,228.4" fill="none" stroke="#bff0cf" stroke-width="0.6"/>
<rect x="336.5" y="220.2" width="4" height="4" rx="0.5" fill="#22a04e"/>
<path d="M337.5,221.0 L337.5,223.3 L340.0,223.3" fill="none" stroke="#bff0cf" stroke-width="0.6"/>
<line x1="351.4" y1="224.3" x2="351.4" y2="235.9" stroke="#8a8a8a" stroke-width="0.8"/>
<line x1="351.4" y1="235.9" x2="363.2" y2="235.9" stroke="#8a8a8a" stroke-width="0.8"/>
<line x1="375.7" y1="235.9" x2="388" y2="235.9" stroke="#8a8a8a" stroke-width="0.8"/>
<line x1="370" y1="247.9" x2="370" y2="263.3" stroke="#9a9a9a" stroke-width="0.8"/>
<line x1="388" y1="230" x2="388" y2="235.9" stroke="#a0a0a0" stroke-width="0.8"/>
<line x1="370" y1="274.3" x2="370" y2="279.2" stroke="#8a8a8a" stroke-width="0.8"/>
<rect x="347.0" y="206.3" width="9.6" height="11.0" fill="url(#actG)" stroke="#8a959e" stroke-width="0.4"/>
<rect x="347.2" y="217.1" width="9.2" height="1.4" fill="#3b4650" />
<rect x="350.2" y="218.5" width="3.2" height="1.8" fill="#b89a58" />
<rect x="346.4" y="220.3" width="10.8" height="4.4" fill="url(#brassG)" stroke="#5e4a22" stroke-width="0.5"/>
<text x="359.6" y="215.4" font-size="7.3" letter-spacing="0.5" font-weight="bold" fill="#111" stroke="#111" stroke-width="0.26" >电动阀</text>
<polygon points="419.0,211.6 429.0,213.4 432.9,216.5 436.6,219.2 437.0,225.6 433.9,228.6 423.4,230.0 420.0,220.2" fill="url(#fcuFan)" stroke="none" stroke-width="0.5" />
<ellipse cx="434.0" cy="223.0" rx="3.0" ry="5.0" fill="#c2c8ca"/>
<ellipse cx="434.6" cy="223.6" rx="1.5" ry="2.8" fill="#8a9294"/>
<line x1="429.0" y1="213.6" x2="429.0" y2="225.5" stroke="#b9bfc1" stroke-width="0.8"/>
<polygon points="384.0,221.5 408.0,209.2 419.0,211.6 419.0,219.6 410.0,219.0 384.9,227.2" fill="url(#fcuTop)" stroke="none" stroke-width="0.5" />
<polygon points="385.6,222.2 406.6,212.4 409.0,218.6 385.6,226.4" fill="#b4d2d9" stroke="none" stroke-width="0.5" />
<line x1="388.12" y1="221.024" x2="388.40799999999996" y2="225.464" stroke="#5f8c94" stroke-width="0.45"/>
<line x1="392.10999999999996" y1="219.162" x2="392.854" y2="223.982" stroke="#5f8c94" stroke-width="0.45"/>
<line x1="396.09999999999997" y1="217.3" x2="397.29999999999995" y2="222.5" stroke="#5f8c94" stroke-width="0.45"/>
<line x1="400.09" y1="215.438" x2="401.746" y2="221.018" stroke="#5f8c94" stroke-width="0.45"/>
<line x1="404.08" y1="213.576" x2="406.192" y2="219.536" stroke="#5f8c94" stroke-width="0.45"/>
<line x1="385.79999999999995" y1="224.0" x2="407.59999999999997" y2="215.1" stroke="#eef6f8" stroke-width="0.8"/>
<line x1="385.79999999999995" y1="225.6" x2="408.4" y2="217.6" stroke="#7fa6ae" stroke-width="0.5"/>
<polygon points="384.9,227.4 410.0,219.0 420.0,220.2 430.0,223.6 423.4,230.0 391.4,232.6 385.4,230.8" fill="url(#fcuBot)" stroke="none" stroke-width="0.5" />
<line x1="388.4" y1="232.2" x2="423.4" y2="229.8" stroke="#9aa0a2" stroke-width="0.8"/>
<line x1="385.4" y1="227.8" x2="410.0" y2="219.4" stroke="#f4f7f8" stroke-width="0.5"/>
<text x="403.7" y="242.4" font-size="7.3" letter-spacing="0.5" font-weight="bold" fill="#111" stroke="#111" stroke-width="0.26" >风机盘管</text>
<rect x="363.2" y="228.9" width="12.5" height="19.0" fill="#eef0f0" stroke="#c0c4c4" stroke-width="0.5"/>
<rect x="363.2" y="232.1" width="12.5" height="2.6" fill="#111" />
<rect x="365.6" y="237.1" width="7.6" height="8.6" fill="#d2d6d9" stroke="#b0b4b8" stroke-width="0.4"/>
<rect x="366.8" y="238.7" width="1.2" height="1.2" fill="#9aa0a6" />
<rect x="370.2" y="238.7" width="1.2" height="1.2" fill="#9aa0a6" />
<rect x="366.8" y="242.7" width="1.2" height="1.2" fill="#9aa0a6" />
<rect x="370.2" y="242.7" width="1.2" height="1.2" fill="#9aa0a6" />
<rect x="365.2" y="263.3" width="12.0" height="11.5" fill="#f2f4fa" stroke="#c8cee0" stroke-width="0.5"/>
<rect x="366.9" y="264.2" width="8.6" height="8.1" fill="#2b3a9e" />
<rect x="367.8" y="265.1" width="3.4" height="3.6" fill="#3e55c0" opacity="0.55"/>
<rect x="365.6" y="273.5" width="11.2" height="1.2" fill="#9aa0b4" />
<rect x="376.0" y="264.3" width="0.8" height="8.5" fill="#d0d8ea" />
<text x="383.8" y="273.9" font-size="7.3" letter-spacing="0.5" font-weight="bold" fill="#111" stroke="#111" stroke-width="0.26" >联网型温控器</text>
<text x="406.0" y="286.7" font-size="7.3" letter-spacing="0.5" font-weight="bold" fill="#111" stroke="#111" stroke-width="0.26" >房间</text>
<text x="421.4" y="286.8" font-size="7.5" letter-spacing="0.5" font-weight="normal" fill="#222" >2</text>
<rect x="458.7" y="192.2" width="113.80000000000001" height="95.80000000000001" rx="6" fill="none" stroke="#b4aeae" stroke-width="0.9" stroke-dasharray="2,1.6"/>
<line x1="465.5" y1="198.0" x2="465.5" y2="227.5" stroke="#2ea2e4" stroke-width="2"/>
<line x1="471.7" y1="204.4" x2="471.7" y2="222.4" stroke="#1d3f80" stroke-width="2"/>
<line x1="465.5" y1="227.5" x2="523" y2="227.5" stroke="#2ea2e4" stroke-width="2"/>
<line x1="471.7" y1="222.4" x2="523" y2="222.4" stroke="#1d3f80" stroke-width="2.1"/>
<rect x="462.2" y="194.5" width="6.5" height="2.6" rx="0.5" fill="#1f9a4a"/>
<line x1="462.8" y1="195.9" x2="468.2" y2="195.9" stroke="#c8f2d6" stroke-width="0.55"/>
<polygon points="463.3,197.1 467.7,197.1 466.6,199.2 464.4,199.2" fill="#3cb86a"/>
<rect x="469.4" y="200.9" width="6.5" height="2.6" rx="0.5" fill="#1f9a4a"/>
<line x1="469.9" y1="202.3" x2="475.4" y2="202.3" stroke="#c8f2d6" stroke-width="0.55"/>
<polygon points="470.5,203.5 474.9,203.5 473.8,205.6 471.6,205.6" fill="#3cb86a"/>
<rect x="463.6" y="225.3" width="4" height="4" rx="0.5" fill="#22a04e"/>
<path d="M464.6,226.1 L464.6,228.4 L467.1,228.4" fill="none" stroke="#bff0cf" stroke-width="0.6"/>
<rect x="469.8" y="220.2" width="4" height="4" rx="0.5" fill="#22a04e"/>
<path d="M470.8,221.0 L470.8,223.3 L473.3,223.3" fill="none" stroke="#bff0cf" stroke-width="0.6"/>
<line x1="485.5" y1="224.3" x2="485.5" y2="235.9" stroke="#8a8a8a" stroke-width="0.8"/>
<line x1="485.5" y1="235.9" x2="496.2" y2="235.9" stroke="#8a8a8a" stroke-width="0.8"/>
<line x1="508.7" y1="235.9" x2="521.7" y2="235.9" stroke="#8a8a8a" stroke-width="0.8"/>
<line x1="503.7" y1="247.9" x2="503.7" y2="263.7" stroke="#9a9a9a" stroke-width="0.8"/>
<line x1="521.7" y1="230" x2="521.7" y2="235.9" stroke="#a0a0a0" stroke-width="0.8"/>
<line x1="503.7" y1="274.7" x2="503.7" y2="279.2" stroke="#8a8a8a" stroke-width="0.8"/>
<rect x="480.5" y="206.3" width="9.6" height="11.0" fill="url(#actG)" stroke="#8a959e" stroke-width="0.4"/>
<rect x="480.7" y="217.1" width="9.2" height="1.4" fill="#3b4650" />
<rect x="483.7" y="218.5" width="3.2" height="1.8" fill="#b89a58" />
<rect x="479.9" y="220.3" width="10.8" height="4.4" fill="url(#brassG)" stroke="#5e4a22" stroke-width="0.5"/>
<text x="493.0" y="215.4" font-size="7.3" letter-spacing="0.5" font-weight="bold" fill="#111" stroke="#111" stroke-width="0.26" >电动阀</text>
<polygon points="552.6,211.6 562.6,213.4 566.5,216.5 570.2,219.2 570.6,225.6 567.5,228.6 557.0,230.0 553.6,220.2" fill="url(#fcuFan)" stroke="none" stroke-width="0.5" />
<ellipse cx="567.6" cy="223.0" rx="3.0" ry="5.0" fill="#c2c8ca"/>
<ellipse cx="568.2" cy="223.6" rx="1.5" ry="2.8" fill="#8a9294"/>
<line x1="562.6" y1="213.6" x2="562.6" y2="225.5" stroke="#b9bfc1" stroke-width="0.8"/>
<polygon points="517.6,221.5 541.6,209.2 552.6,211.6 552.6,219.6 543.6,219.0 518.5,227.2" fill="url(#fcuTop)" stroke="none" stroke-width="0.5" />
<polygon points="519.2,222.2 540.2,212.4 542.6,218.6 519.2,226.4" fill="#b4d2d9" stroke="none" stroke-width="0.5" />
<line x1="521.72" y1="221.024" x2="522.008" y2="225.464" stroke="#5f8c94" stroke-width="0.45"/>
<line x1="525.71" y1="219.162" x2="526.454" y2="223.982" stroke="#5f8c94" stroke-width="0.45"/>
<line x1="529.7" y1="217.3" x2="530.9" y2="222.5" stroke="#5f8c94" stroke-width="0.45"/>
<line x1="533.69" y1="215.438" x2="535.346" y2="221.018" stroke="#5f8c94" stroke-width="0.45"/>
<line x1="537.68" y1="213.576" x2="539.792" y2="219.536" stroke="#5f8c94" stroke-width="0.45"/>
<line x1="519.4" y1="224.0" x2="541.2" y2="215.1" stroke="#eef6f8" stroke-width="0.8"/>
<line x1="519.4" y1="225.6" x2="542" y2="217.6" stroke="#7fa6ae" stroke-width="0.5"/>
<polygon points="518.5,227.4 543.6,219.0 553.6,220.2 563.6,223.6 557.0,230.0 525.0,232.6 519.0,230.8" fill="url(#fcuBot)" stroke="none" stroke-width="0.5" />
<line x1="522" y1="232.2" x2="557" y2="229.8" stroke="#9aa0a2" stroke-width="0.8"/>
<line x1="519" y1="227.8" x2="543.6" y2="219.4" stroke="#f4f7f8" stroke-width="0.5"/>
<text x="536.7" y="242.4" font-size="7.3" letter-spacing="0.5" font-weight="bold" fill="#111" stroke="#111" stroke-width="0.26" >风机盘管</text>
<rect x="496.2" y="228.9" width="12.5" height="19.0" fill="#eef0f0" stroke="#c0c4c4" stroke-width="0.5"/>
<rect x="496.2" y="232.1" width="12.5" height="2.6" fill="#111" />
<rect x="498.6" y="237.1" width="7.6" height="8.6" fill="#d2d6d9" stroke="#b0b4b8" stroke-width="0.4"/>
<rect x="499.8" y="238.7" width="1.2" height="1.2" fill="#9aa0a6" />
<rect x="503.2" y="238.7" width="1.2" height="1.2" fill="#9aa0a6" />
<rect x="499.8" y="242.7" width="1.2" height="1.2" fill="#9aa0a6" />
<rect x="503.2" y="242.7" width="1.2" height="1.2" fill="#9aa0a6" />
<rect x="497.7" y="263.7" width="12.0" height="11.5" fill="#f2f4fa" stroke="#c8cee0" stroke-width="0.5"/>
<rect x="499.4" y="264.6" width="8.6" height="8.1" fill="#2b3a9e" />
<rect x="500.3" y="265.5" width="3.4" height="3.6" fill="#3e55c0" opacity="0.55"/>
<rect x="498.1" y="273.9" width="11.2" height="1.2" fill="#9aa0b4" />
<rect x="508.5" y="264.7" width="0.8" height="8.5" fill="#d0d8ea" />
<text x="522.5" y="273.9" font-size="7.3" letter-spacing="0.5" font-weight="bold" fill="#111" stroke="#111" stroke-width="0.26" >联网型温控器</text>
<text x="534.5" y="286.7" font-size="7.3" letter-spacing="0.5" font-weight="bold" fill="#111" stroke="#111" stroke-width="0.26" >房间</text>
<text x="549.9" y="286.8" font-size="7.5" letter-spacing="0.5" font-weight="normal" fill="#222" >n</text>
<circle cx="443" cy="240.2" r="0.85" fill="#333"/>
<circle cx="449.6" cy="240.2" r="0.85" fill="#333"/>
<circle cx="456" cy="240.2" r="0.85" fill="#333"/>
<text x="113.2" y="315.3" font-size="7.3" letter-spacing="0.5" font-weight="bold" fill="#111" stroke="#111" stroke-width="0.26" >新风机组</text>
<line x1="172" y1="325.9" x2="596.2" y2="325.9" stroke="#2696d4" stroke-width="2.6"/>
<line x1="172" y1="332.4" x2="586.9" y2="332.4" stroke="#2a5aaa" stroke-width="1.9"/>
<rect x="594.6" y="322.5" width="3.4" height="6.8" rx="0.6" fill="#2a9a82"/>
<polygon points="592.6,325.9 594.8,323.7 594.8,328.09999999999997" fill="#3aae90"/>
<rect x="585.4" y="329.0" width="3.2" height="6.8" rx="0.6" fill="#2a9a82"/>
<polygon points="583.6,332.4 585.6,330.4 585.6,334.4" fill="#3aae90"/>
<polygon points="111.9,325.2 138.7,332.4 138.7,353.4 112.3,339.8" fill="url(#ahuLeft)" stroke="#a4a8ac" stroke-width="0.4" />
<polygon points="138.7,332.4 175.3,323.6 175.3,339.0 138.7,353.4" fill="url(#ahuRight)" stroke="#a4a8ac" stroke-width="0.4" />
<polygon points="111.9,325.2 144.6,319.6 175.3,323.6 138.7,332.4" fill="url(#ahuTop)" stroke="#b0b4b8" stroke-width="0.4" />
<polygon points="115.1,325.3 144.5,320.8 171.9,323.9 138.7,330.8" fill="#e0e2e5" stroke="none" stroke-width="0.5" />
<line x1="115.10000000000001" y1="325.3" x2="138.70000000000002" y2="330.8" stroke="#f2f3f4" stroke-width="0.5"/>
<polygon points="112.8,328.6 120.0,330.4 120.0,339.8 112.8,337.8" fill="#f6f6f6" stroke="#8a8e92" stroke-width="0.4" />
<polygon points="114.1,330.2 118.9,331.4 118.9,338.4 114.1,337.0" fill="#8e9498" stroke="none" stroke-width="0.5" />
<polygon points="126.0,332.8 136.2,335.4 136.2,345.8 126.0,343.0" fill="#f6f6f6" stroke="#8a8e92" stroke-width="0.4" />
<polygon points="127.5,334.6 134.9,336.5 134.9,344.4 127.5,342.4" fill="#8e9498" stroke="none" stroke-width="0.5" />
<polygon points="141.5,336.6 151.3,334.6 151.5,343.8 142.1,346.4" fill="#e4e6e8" stroke="none" stroke-width="0.5" />
<path d="M142.5,337.6 L150.5,336.0 Q151.3,339.2 150.7,342.8 L143.1,345.0 Q142.1,341.2 142.5,337.6 Z" fill="#232526"/>
<line x1="157.2" y1="328.2" x2="157.2" y2="345.8" stroke="#e2e4e6" stroke-width="0.9"/>
<line x1="166.8" y1="326.09999999999997" x2="166.8" y2="342.2" stroke="#8e9296" stroke-width="0.6"/>
<line x1="112.5" y1="340.0" x2="138.70000000000002" y2="353.59999999999997" stroke="#8d9195" stroke-width="0.5"/>
<line x1="138.70000000000002" y1="353.59999999999997" x2="175.3" y2="339.2" stroke="#8d9195" stroke-width="0.5"/>
<line x1="125.30000000000001" y1="346.2" x2="125.30000000000001" y2="352.8" stroke="#999999" stroke-width="0.9"/>
<line x1="125.30000000000001" y1="352.8" x2="193.5" y2="352.8" stroke="#999999" stroke-width="0.9"/>
<line x1="193.5" y1="329.3" x2="193.5" y2="352.8" stroke="#999999" stroke-width="0.9"/>
<rect x="188.0" y="306.3" width="12.8" height="13.4" fill="url(#actG)" stroke="#8a959e" stroke-width="0.4"/>
<rect x="188.3" y="319.5" width="12.2" height="1.8" fill="#3b4650" />
<rect x="192.3" y="321.3" width="4.2" height="2.3" fill="#b89a58" />
<rect x="189.5" y="323.6" width="10.0" height="6.2" fill="url(#brassG)" stroke="#5e4a22" stroke-width="0.6"/>
<text x="206.0" y="318.2" font-size="7.3" letter-spacing="0.5" font-weight="bold" fill="#111" stroke="#111" stroke-width="0.26" >电动阀</text>
<text x="91.4" y="371.9" font-size="7.3" letter-spacing="0.5" font-weight="bold" fill="#111" stroke="#111" stroke-width="0.26" >新风机组控制器</text>
<line x1="91.2" y1="395" x2="118" y2="395" stroke="#8a8a8a" stroke-width="1.0"/>
<polygon points="119.2,392.6 139.5,394.5 139.5,410.9 119.2,404.9" fill="#d2d7cf" stroke="#aab0a8" stroke-width="0.4" />
<polygon points="139.5,394.5 161.8,378.3 161.8,391.7 139.5,410.9" fill="#c6cbc3" stroke="#aab0a8" stroke-width="0.4" />
<polygon points="119.2,392.6 146.0,372.8 161.8,378.3 139.5,394.5" fill="#e0e4dd" stroke="#aab0a8" stroke-width="0.4" />
<polygon points="125.2,389.6 145.8,373.0 148.2,373.8 127.6,390.4" fill="#2f5b5d" stroke="none" stroke-width="0.5" />
<polygon points="139.5,394.5 161.8,378.3 159.6,377.6 137.4,393.6" fill="#2f5b5d" stroke="none" stroke-width="0.5" />
<polygon points="120.0,392.2 124.8,389.2 131.6,391.0 127.4,393.6" fill="#eceeea" stroke="none" stroke-width="0.5" />
<polygon points="120.4,392.1 122.8,390.6 125.4,391.3 123.0,392.8" fill="#b6c8d2" stroke="none" stroke-width="0.5" />
<polygon points="135.8,384.8 143.8,379.0 147.6,380.2 139.6,386.0" fill="#f2f4f0" stroke="none" stroke-width="0.5" />
<line x1="137.4" y1="384.6" x2="144.8" y2="379.6" stroke="#8a8a8a" stroke-width="0.4"/>
<polygon points="132.5,399.0 139.2,400.6 139.2,405.2 132.5,403.6" fill="#55656c" stroke="none" stroke-width="0.5" />
<polygon points="133.2,399.9 138.5,401.2 138.5,402.4 133.2,401.1" fill="#b0bec4" stroke="none" stroke-width="0.5" />
<polygon points="133.2,402.4 138.5,403.7 138.5,404.5 133.2,403.2" fill="#9aa8ae" stroke="none" stroke-width="0.5" />
<line x1="143.2" y1="403.2143497757848" x2="143.2" y2="405.2143497757848" stroke="#a0a69e" stroke-width="0.5"/>
<line x1="147.0" y1="399.942600896861" x2="147.0" y2="401.942600896861" stroke="#a0a69e" stroke-width="0.5"/>
<line x1="150.8" y1="396.67085201793725" x2="150.8" y2="398.67085201793725" stroke="#a0a69e" stroke-width="0.5"/>
<line x1="154.6" y1="393.3991031390135" x2="154.6" y2="395.3991031390135" stroke="#a0a69e" stroke-width="0.5"/>
<line x1="158.4" y1="390.1273542600897" x2="158.4" y2="392.1273542600897" stroke="#a0a69e" stroke-width="0.5"/>
<line x1="122.2" y1="405.40000000000003" x2="122.2" y2="406.6" stroke="#888" stroke-width="0.6"/>
<line x1="138.2" y1="410.8" x2="138.2" y2="412.1" stroke="#888" stroke-width="0.6"/>
<line x1="157.2" y1="395.40000000000003" x2="157.2" y2="396.6" stroke="#888" stroke-width="0.6"/>
<text x="169.0" y="381.7" font-size="7.3" letter-spacing="0.5" font-weight="bold" fill="#111" stroke="#111" stroke-width="0.26" >主温控器</text>
<line x1="183.0" y1="399.6" x2="183.0" y2="404.8" stroke="#d4d4d4" stroke-width="0.9"/>
<line x1="150" y1="404.8" x2="504" y2="404.8" stroke="#8f8f8f" stroke-width="1.0"/>
<rect x="176.5" y="387.6" width="12.5" height="12.0" fill="#f2f4fa" stroke="#c8cee0" stroke-width="0.5"/>
<rect x="178.2" y="388.5" width="9.1" height="8.6" fill="#2b3a9e" />
<rect x="179.1" y="389.4" width="3.6" height="3.9" fill="#3e55c0" opacity="0.55"/>
<rect x="176.9" y="398.3" width="11.7" height="1.2" fill="#9aa0b4" />
<rect x="187.8" y="388.6" width="0.8" height="9.0" fill="#d0d8ea" />
<rect x="205.3" y="321.2" width="114.5" height="96.19999999999999" rx="6" fill="none" stroke="#b4aeae" stroke-width="0.9" stroke-dasharray="2,1.6"/>
<line x1="214" y1="326.9" x2="214" y2="356.1" stroke="#2ea2e4" stroke-width="2"/>
<line x1="219.1" y1="333.4" x2="219.1" y2="350.8" stroke="#1d3f80" stroke-width="2"/>
<line x1="214" y1="356.1" x2="270.4" y2="356.1" stroke="#2ea2e4" stroke-width="2"/>
<line x1="219.1" y1="350.8" x2="270.4" y2="350.8" stroke="#1d3f80" stroke-width="2.1"/>
<rect x="210.8" y="323.4" width="6.5" height="2.6" rx="0.5" fill="#1f9a4a"/>
<line x1="211.2" y1="324.8" x2="216.8" y2="324.8" stroke="#c8f2d6" stroke-width="0.55"/>
<polygon points="211.8,326.0 216.2,326.0 215.1,328.1 212.9,328.1" fill="#3cb86a"/>
<rect x="216.8" y="329.9" width="6.5" height="2.6" rx="0.5" fill="#1f9a4a"/>
<line x1="217.3" y1="331.3" x2="222.8" y2="331.3" stroke="#c8f2d6" stroke-width="0.55"/>
<polygon points="217.9,332.5 222.3,332.5 221.2,334.6 219.0,334.6" fill="#3cb86a"/>
<rect x="212.1" y="353.9" width="4" height="4" rx="0.5" fill="#22a04e"/>
<path d="M213.1,354.7 L213.1,357.0 L215.6,357.0" fill="none" stroke="#bff0cf" stroke-width="0.6"/>
<rect x="217.2" y="348.6" width="4" height="4" rx="0.5" fill="#22a04e"/>
<path d="M218.2,349.4 L218.2,351.7 L220.7,351.7" fill="none" stroke="#bff0cf" stroke-width="0.6"/>
<line x1="232.7" y1="352.8" x2="232.7" y2="364.8" stroke="#8a8a8a" stroke-width="0.8"/>
<line x1="232.7" y1="364.8" x2="268" y2="364.8" stroke="#8a8a8a" stroke-width="0.8"/>
<line x1="246.2" y1="364.8" x2="246.2" y2="387.7" stroke="#8a8a8a" stroke-width="0.8"/>
<line x1="268" y1="359.4" x2="268" y2="364.8" stroke="#a0a0a0" stroke-width="0.8"/>
<line x1="246.2" y1="398.7" x2="246.2" y2="404.8" stroke="#8a8a8a" stroke-width="0.8"/>
<rect x="228.0" y="334.8" width="9.6" height="11.0" fill="url(#actG)" stroke="#8a959e" stroke-width="0.4"/>
<rect x="228.2" y="345.6" width="9.2" height="1.4" fill="#3b4650" />
<rect x="231.2" y="347.0" width="3.2" height="1.8" fill="#b89a58" />
<rect x="227.4" y="348.8" width="10.8" height="4.4" fill="url(#brassG)" stroke="#5e4a22" stroke-width="0.5"/>
<text x="240.4" y="344.7" font-size="7.3" letter-spacing="0.5" font-weight="bold" fill="#111" stroke="#111" stroke-width="0.26" >电动阀</text>
<polygon points="300.0,341.0 310.0,342.8 313.9,345.9 317.6,348.6 318.0,355.0 314.9,358.0 304.4,359.4 301.0,349.6" fill="url(#fcuFan)" stroke="none" stroke-width="0.5" />
<ellipse cx="315.0" cy="352.4" rx="3.0" ry="5.0" fill="#c2c8ca"/>
<ellipse cx="315.6" cy="353.0" rx="1.5" ry="2.8" fill="#8a9294"/>
<line x1="310.0" y1="343.0" x2="310.0" y2="354.9" stroke="#b9bfc1" stroke-width="0.8"/>
<polygon points="265.0,350.9 289.0,338.6 300.0,341.0 300.0,349.0 291.0,348.4 265.9,356.6" fill="url(#fcuTop)" stroke="none" stroke-width="0.5" />
<polygon points="266.6,351.6 287.6,341.8 290.0,348.0 266.6,355.8" fill="#b4d2d9" stroke="none" stroke-width="0.5" />
<line x1="269.12" y1="350.424" x2="269.40799999999996" y2="354.864" stroke="#5f8c94" stroke-width="0.45"/>
<line x1="273.10999999999996" y1="348.56199999999995" x2="273.854" y2="353.38199999999995" stroke="#5f8c94" stroke-width="0.45"/>
<line x1="277.09999999999997" y1="346.7" x2="278.29999999999995" y2="351.9" stroke="#5f8c94" stroke-width="0.45"/>
<line x1="281.09" y1="344.83799999999997" x2="282.746" y2="350.41799999999995" stroke="#5f8c94" stroke-width="0.45"/>
<line x1="285.08" y1="342.976" x2="287.192" y2="348.936" stroke="#5f8c94" stroke-width="0.45"/>
<line x1="266.79999999999995" y1="353.4" x2="288.59999999999997" y2="344.5" stroke="#eef6f8" stroke-width="0.8"/>
<line x1="266.79999999999995" y1="355.0" x2="289.4" y2="347.0" stroke="#7fa6ae" stroke-width="0.5"/>
<polygon points="265.9,356.8 291.0,348.4 301.0,349.6 311.0,353.0 304.4,359.4 272.4,362.0 266.4,360.2" fill="url(#fcuBot)" stroke="none" stroke-width="0.5" />
<line x1="269.4" y1="361.59999999999997" x2="304.4" y2="359.2" stroke="#9aa0a2" stroke-width="0.8"/>
<line x1="266.4" y1="357.2" x2="291.0" y2="348.79999999999995" stroke="#f4f7f8" stroke-width="0.5"/>
<text x="282.7" y="372.4" font-size="7.3" letter-spacing="0.5" font-weight="bold" fill="#111" stroke="#111" stroke-width="0.26" >风机盘管</text>
<rect x="241.3" y="387.7" width="12.0" height="11.5" fill="#f2f4fa" stroke="#c8cee0" stroke-width="0.5"/>
<rect x="243.0" y="388.6" width="8.6" height="8.1" fill="#2b3a9e" />
<rect x="243.9" y="389.5" width="3.4" height="3.6" fill="#3e55c0" opacity="0.55"/>
<rect x="241.7" y="397.9" width="11.2" height="1.2" fill="#9aa0b4" />
<rect x="252.1" y="388.7" width="0.8" height="8.5" fill="#d0d8ea" />
<text x="259.3" y="397.5" font-size="7.3" letter-spacing="0.5" font-weight="bold" fill="#111" stroke="#111" stroke-width="0.26" >联网型温控器</text>
<text x="287.5" y="415.9" font-size="7.3" letter-spacing="0.5" font-weight="bold" fill="#111" stroke="#111" stroke-width="0.26" >房间</text>
<text x="302.9" y="415.9" font-size="7.3" letter-spacing="0.5" font-weight="bold" fill="#111" stroke="#111" stroke-width="0.26" >1</text>
<rect x="325.7" y="321.2" width="114.0" height="96.19999999999999" rx="6" fill="none" stroke="#b4aeae" stroke-width="0.9" stroke-dasharray="2,1.6"/>
<line x1="332" y1="326.9" x2="332" y2="356.1" stroke="#2ea2e4" stroke-width="2"/>
<line x1="338.4" y1="333.4" x2="338.4" y2="350.8" stroke="#1d3f80" stroke-width="2"/>
<line x1="332" y1="356.1" x2="389.4" y2="356.1" stroke="#2ea2e4" stroke-width="2"/>
<line x1="338.4" y1="350.8" x2="389.4" y2="350.8" stroke="#1d3f80" stroke-width="2.1"/>
<rect x="328.8" y="323.4" width="6.5" height="2.6" rx="0.5" fill="#1f9a4a"/>
<line x1="329.2" y1="324.8" x2="334.8" y2="324.8" stroke="#c8f2d6" stroke-width="0.55"/>
<polygon points="329.8,326.0 334.2,326.0 333.1,328.1 330.9,328.1" fill="#3cb86a"/>
<rect x="336.1" y="329.9" width="6.5" height="2.6" rx="0.5" fill="#1f9a4a"/>
<line x1="336.6" y1="331.3" x2="342.1" y2="331.3" stroke="#c8f2d6" stroke-width="0.55"/>
<polygon points="337.2,332.5 341.6,332.5 340.5,334.6 338.3,334.6" fill="#3cb86a"/>
<rect x="330.1" y="353.9" width="4" height="4" rx="0.5" fill="#22a04e"/>
<path d="M331.1,354.7 L331.1,357.0 L333.6,357.0" fill="none" stroke="#bff0cf" stroke-width="0.6"/>
<rect x="336.5" y="348.6" width="4" height="4" rx="0.5" fill="#22a04e"/>
<path d="M337.5,349.4 L337.5,351.7 L340.0,351.7" fill="none" stroke="#bff0cf" stroke-width="0.6"/>
<line x1="351.4" y1="352.8" x2="351.4" y2="364.8" stroke="#8a8a8a" stroke-width="0.8"/>
<line x1="351.4" y1="364.8" x2="387.2" y2="364.8" stroke="#8a8a8a" stroke-width="0.8"/>
<line x1="365.8" y1="364.8" x2="365.8" y2="388.8" stroke="#8a8a8a" stroke-width="0.8"/>
<line x1="387.2" y1="359.4" x2="387.2" y2="364.8" stroke="#a0a0a0" stroke-width="0.8"/>
<line x1="365.8" y1="399.8" x2="365.8" y2="404.8" stroke="#8a8a8a" stroke-width="0.8"/>
<rect x="347.0" y="334.8" width="9.6" height="11.0" fill="url(#actG)" stroke="#8a959e" stroke-width="0.4"/>
<rect x="347.2" y="345.6" width="9.2" height="1.4" fill="#3b4650" />
<rect x="350.2" y="347.0" width="3.2" height="1.8" fill="#b89a58" />
<rect x="346.4" y="348.8" width="10.8" height="4.4" fill="url(#brassG)" stroke="#5e4a22" stroke-width="0.5"/>
<text x="359.6" y="344.7" font-size="7.3" letter-spacing="0.5" font-weight="bold" fill="#111" stroke="#111" stroke-width="0.26" >电动阀</text>
<polygon points="419.0,341.0 429.0,342.8 432.9,345.9 436.6,348.6 437.0,355.0 433.9,358.0 423.4,359.4 420.0,349.6" fill="url(#fcuFan)" stroke="none" stroke-width="0.5" />
<ellipse cx="434.0" cy="352.4" rx="3.0" ry="5.0" fill="#c2c8ca"/>
<ellipse cx="434.6" cy="353.0" rx="1.5" ry="2.8" fill="#8a9294"/>
<line x1="429.0" y1="343.0" x2="429.0" y2="354.9" stroke="#b9bfc1" stroke-width="0.8"/>
<polygon points="384.0,350.9 408.0,338.6 419.0,341.0 419.0,349.0 410.0,348.4 384.9,356.6" fill="url(#fcuTop)" stroke="none" stroke-width="0.5" />
<polygon points="385.6,351.6 406.6,341.8 409.0,348.0 385.6,355.8" fill="#b4d2d9" stroke="none" stroke-width="0.5" />
<line x1="388.12" y1="350.424" x2="388.40799999999996" y2="354.864" stroke="#5f8c94" stroke-width="0.45"/>
<line x1="392.10999999999996" y1="348.56199999999995" x2="392.854" y2="353.38199999999995" stroke="#5f8c94" stroke-width="0.45"/>
<line x1="396.09999999999997" y1="346.7" x2="397.29999999999995" y2="351.9" stroke="#5f8c94" stroke-width="0.45"/>
<line x1="400.09" y1="344.83799999999997" x2="401.746" y2="350.41799999999995" stroke="#5f8c94" stroke-width="0.45"/>
<line x1="404.08" y1="342.976" x2="406.192" y2="348.936" stroke="#5f8c94" stroke-width="0.45"/>
<line x1="385.79999999999995" y1="353.4" x2="407.59999999999997" y2="344.5" stroke="#eef6f8" stroke-width="0.8"/>
<line x1="385.79999999999995" y1="355.0" x2="408.4" y2="347.0" stroke="#7fa6ae" stroke-width="0.5"/>
<polygon points="384.9,356.8 410.0,348.4 420.0,349.6 430.0,353.0 423.4,359.4 391.4,362.0 385.4,360.2" fill="url(#fcuBot)" stroke="none" stroke-width="0.5" />
<line x1="388.4" y1="361.59999999999997" x2="423.4" y2="359.2" stroke="#9aa0a2" stroke-width="0.8"/>
<line x1="385.4" y1="357.2" x2="410.0" y2="348.79999999999995" stroke="#f4f7f8" stroke-width="0.5"/>
<text x="403.0" y="371.7" font-size="7.3" letter-spacing="0.5" font-weight="bold" fill="#111" stroke="#111" stroke-width="0.26" >风机盘管</text>
<rect x="360.7" y="388.8" width="12.0" height="11.5" fill="#f2f4fa" stroke="#c8cee0" stroke-width="0.5"/>
<rect x="362.4" y="389.7" width="8.6" height="8.1" fill="#2b3a9e" />
<rect x="363.3" y="390.6" width="3.4" height="3.6" fill="#3e55c0" opacity="0.55"/>
<rect x="361.1" y="399.0" width="11.2" height="1.2" fill="#9aa0b4" />
<rect x="371.5" y="389.8" width="0.8" height="8.5" fill="#d0d8ea" />
<text x="378.7" y="399.0" font-size="7.3" letter-spacing="0.5" font-weight="bold" fill="#111" stroke="#111" stroke-width="0.26" >联网型温控器</text>
<text x="406.0" y="416.7" font-size="7.3" letter-spacing="0.5" font-weight="bold" fill="#111" stroke="#111" stroke-width="0.26" >房间</text>
<text x="421.4" y="416.8" font-size="7.5" letter-spacing="0.5" font-weight="normal" fill="#222" >2</text>
<rect x="458.7" y="321.2" width="113.80000000000001" height="96.19999999999999" rx="6" fill="none" stroke="#b4aeae" stroke-width="0.9" stroke-dasharray="2,1.6"/>
<line x1="465.5" y1="326.9" x2="465.5" y2="356.1" stroke="#2ea2e4" stroke-width="2"/>
<line x1="471.7" y1="333.4" x2="471.7" y2="350.8" stroke="#1d3f80" stroke-width="2"/>
<line x1="465.5" y1="356.1" x2="523" y2="356.1" stroke="#2ea2e4" stroke-width="2"/>
<line x1="471.7" y1="350.8" x2="523" y2="350.8" stroke="#1d3f80" stroke-width="2.1"/>
<rect x="462.2" y="323.4" width="6.5" height="2.6" rx="0.5" fill="#1f9a4a"/>
<line x1="462.8" y1="324.8" x2="468.2" y2="324.8" stroke="#c8f2d6" stroke-width="0.55"/>
<polygon points="463.3,326.0 467.7,326.0 466.6,328.1 464.4,328.1" fill="#3cb86a"/>
<rect x="469.4" y="329.9" width="6.5" height="2.6" rx="0.5" fill="#1f9a4a"/>
<line x1="469.9" y1="331.3" x2="475.4" y2="331.3" stroke="#c8f2d6" stroke-width="0.55"/>
<polygon points="470.5,332.5 474.9,332.5 473.8,334.6 471.6,334.6" fill="#3cb86a"/>
<rect x="463.6" y="353.9" width="4" height="4" rx="0.5" fill="#22a04e"/>
<path d="M464.6,354.7 L464.6,357.0 L467.1,357.0" fill="none" stroke="#bff0cf" stroke-width="0.6"/>
<rect x="469.8" y="348.6" width="4" height="4" rx="0.5" fill="#22a04e"/>
<path d="M470.8,349.4 L470.8,351.7 L473.3,351.7" fill="none" stroke="#bff0cf" stroke-width="0.6"/>
<line x1="485.5" y1="352.8" x2="485.5" y2="364.8" stroke="#8a8a8a" stroke-width="0.8"/>
<line x1="485.5" y1="364.8" x2="525.4" y2="364.8" stroke="#8a8a8a" stroke-width="0.8"/>
<line x1="502.7" y1="364.8" x2="502.7" y2="387.9" stroke="#cfcfcf" stroke-width="0.8"/>
<line x1="525.4" y1="359.4" x2="525.4" y2="364.8" stroke="#a0a0a0" stroke-width="0.8"/>
<rect x="480.5" y="334.8" width="9.6" height="11.0" fill="url(#actG)" stroke="#8a959e" stroke-width="0.4"/>
<rect x="480.7" y="345.6" width="9.2" height="1.4" fill="#3b4650" />
<rect x="483.7" y="347.0" width="3.2" height="1.8" fill="#b89a58" />
<rect x="479.9" y="348.8" width="10.8" height="4.4" fill="url(#brassG)" stroke="#5e4a22" stroke-width="0.5"/>
<text x="493.0" y="344.7" font-size="7.3" letter-spacing="0.5" font-weight="bold" fill="#111" stroke="#111" stroke-width="0.26" >电动阀</text>
<polygon points="552.6,341.0 562.6,342.8 566.5,345.9 570.2,348.6 570.6,355.0 567.5,358.0 557.0,359.4 553.6,349.6" fill="url(#fcuFan)" stroke="none" stroke-width="0.5" />
<ellipse cx="567.6" cy="352.4" rx="3.0" ry="5.0" fill="#c2c8ca"/>
<ellipse cx="568.2" cy="353.0" rx="1.5" ry="2.8" fill="#8a9294"/>
<line x1="562.6" y1="343.0" x2="562.6" y2="354.9" stroke="#b9bfc1" stroke-width="0.8"/>
<polygon points="517.6,350.9 541.6,338.6 552.6,341.0 552.6,349.0 543.6,348.4 518.5,356.6" fill="url(#fcuTop)" stroke="none" stroke-width="0.5" />
<polygon points="519.2,351.6 540.2,341.8 542.6,348.0 519.2,355.8" fill="#b4d2d9" stroke="none" stroke-width="0.5" />
<line x1="521.72" y1="350.424" x2="522.008" y2="354.864" stroke="#5f8c94" stroke-width="0.45"/>
<line x1="525.71" y1="348.56199999999995" x2="526.454" y2="353.38199999999995" stroke="#5f8c94" stroke-width="0.45"/>
<line x1="529.7" y1="346.7" x2="530.9" y2="351.9" stroke="#5f8c94" stroke-width="0.45"/>
<line x1="533.69" y1="344.83799999999997" x2="535.346" y2="350.41799999999995" stroke="#5f8c94" stroke-width="0.45"/>
<line x1="537.68" y1="342.976" x2="539.792" y2="348.936" stroke="#5f8c94" stroke-width="0.45"/>
<line x1="519.4" y1="353.4" x2="541.2" y2="344.5" stroke="#eef6f8" stroke-width="0.8"/>
<line x1="519.4" y1="355.0" x2="542" y2="347.0" stroke="#7fa6ae" stroke-width="0.5"/>
<polygon points="518.5,356.8 543.6,348.4 553.6,349.6 563.6,353.0 557.0,359.4 525.0,362.0 519.0,360.2" fill="url(#fcuBot)" stroke="none" stroke-width="0.5" />
<line x1="522" y1="361.59999999999997" x2="557" y2="359.2" stroke="#9aa0a2" stroke-width="0.8"/>
<line x1="519" y1="357.2" x2="543.6" y2="348.79999999999995" stroke="#f4f7f8" stroke-width="0.5"/>
<text x="536.0" y="371.7" font-size="7.3" letter-spacing="0.5" font-weight="bold" fill="#111" stroke="#111" stroke-width="0.26" >风机盘管</text>
<rect x="497.7" y="387.9" width="12.0" height="11.5" fill="#f2f4fa" stroke="#c8cee0" stroke-width="0.5"/>
<rect x="499.4" y="388.8" width="8.6" height="8.1" fill="#2b3a9e" />
<rect x="500.3" y="389.7" width="3.4" height="3.6" fill="#3e55c0" opacity="0.55"/>
<rect x="498.1" y="398.1" width="11.2" height="1.2" fill="#9aa0b4" />
<rect x="508.5" y="388.9" width="0.8" height="8.5" fill="#d0d8ea" />
<text x="515.5" y="397.5" font-size="7.3" letter-spacing="0.5" font-weight="bold" fill="#111" stroke="#111" stroke-width="0.26" >联网型温控器</text>
<text x="534.3" y="416.2" font-size="7.3" letter-spacing="0.5" font-weight="bold" fill="#111" stroke="#111" stroke-width="0.26" >房间</text>
<text x="549.7" y="416.3" font-size="7.5" letter-spacing="0.5" font-weight="normal" fill="#222" >n</text>
<circle cx="443" cy="369.3" r="0.85" fill="#333"/>
<circle cx="449.6" cy="369.3" r="0.85" fill="#333"/>
<circle cx="456" cy="369.3" r="0.85" fill="#333"/>
<text x="467.0" y="156.0" font-size="7.5" letter-spacing="0.5" font-weight="normal" fill="#333" >2</text>
</svg></body></html>
